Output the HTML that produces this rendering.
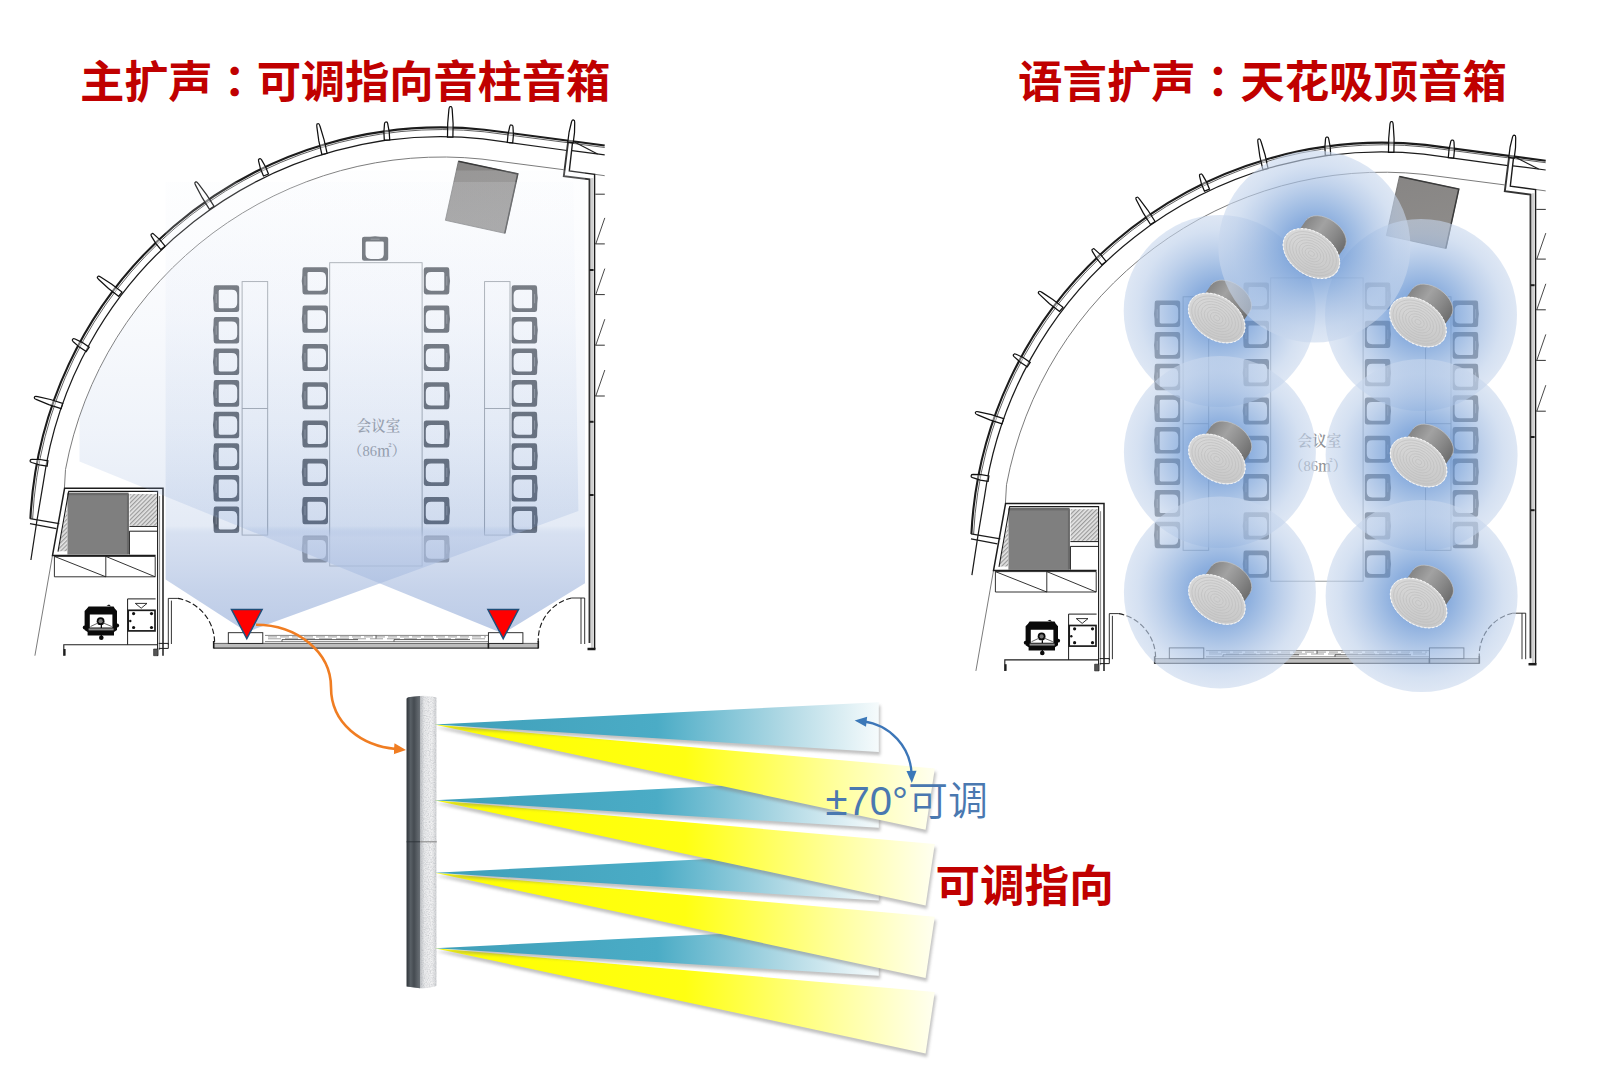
<!DOCTYPE html>
<html lang="zh-CN">
<head>
<meta charset="utf-8">
<title>会议室扩声方案</title>
<style>
html,body{margin:0;padding:0;background:#fff;}
body{width:1600px;height:1077px;overflow:hidden;position:relative;font-family:"Liberation Sans","Noto Sans CJK SC",sans-serif;}
svg{position:absolute;left:0;top:0;display:block;}
.t{position:absolute;white-space:nowrap;color:#c00000;font-weight:700;font-size:44.4px;line-height:44px;letter-spacing:-0.05px;}
.c{font-family:"Liberation Sans","Noto Sans CJK TC",sans-serif;line-height:0;}
</style>
</head>
<body>
<svg width="1600" height="1077" viewBox="0 0 1600 1077">
<defs>
<pattern id="hatchL" width="3" height="3" patternUnits="userSpaceOnUse" patternTransform="rotate(-45)"><rect width="3" height="3" fill="#e4e4e4"/><rect width="3" height="1.2" fill="#9a9a9a"/></pattern><linearGradient id="sqL" x1="0" y1="0" x2="0.25" y2="1"><stop offset="0" stop-color="#878584"/><stop offset="1" stop-color="#8e8c8a"/></linearGradient>
<pattern id="hatchR" width="3" height="3" patternUnits="userSpaceOnUse" patternTransform="rotate(-45)"><rect width="3" height="3" fill="#e4e4e4"/><rect width="3" height="1.2" fill="#9a9a9a"/></pattern><linearGradient id="sqR" x1="0" y1="0" x2="0.25" y2="1"><stop offset="0" stop-color="#878584"/><stop offset="1" stop-color="#8e8c8a"/></linearGradient>

<linearGradient id="beamA" gradientUnits="userSpaceOnUse" x1="0" y1="182" x2="0" y2="633">
<stop offset="0.000" stop-color="#f4f7fc" stop-opacity="0.15"/><stop offset="0.151" stop-color="#e6ecf7" stop-opacity="0.17"/><stop offset="0.306" stop-color="#d6e0f2" stop-opacity="0.18"/><stop offset="0.550" stop-color="#a8bee2" stop-opacity="0.18"/><stop offset="0.763" stop-color="#84a2d4" stop-opacity="0.22"/><stop offset="0.787" stop-color="#b5c6e5" stop-opacity="0.55"/><stop offset="0.905" stop-color="#a7bbdf" stop-opacity="0.65"/><stop offset="1.000" stop-color="#9eb4dc" stop-opacity="0.7"/></linearGradient>
<linearGradient id="beamB" gradientUnits="userSpaceOnUse" x1="0" y1="170" x2="0" y2="633">
<stop offset="0.000" stop-color="#f4f7fc" stop-opacity="0.15"/><stop offset="0.173" stop-color="#e6ecf7" stop-opacity="0.17"/><stop offset="0.324" stop-color="#d6e0f2" stop-opacity="0.18"/><stop offset="0.562" stop-color="#a8bee2" stop-opacity="0.18"/><stop offset="0.769" stop-color="#84a2d4" stop-opacity="0.22"/><stop offset="0.793" stop-color="#b5c6e5" stop-opacity="0.55"/><stop offset="0.907" stop-color="#a7bbdf" stop-opacity="0.65"/><stop offset="1.000" stop-color="#9eb4dc" stop-opacity="0.7"/></linearGradient>
<radialGradient id="cov" cx="0.5" cy="0.5" r="0.5">
<stop offset="0" stop-color="#588cd0" stop-opacity="0.88"/><stop offset="0.3" stop-color="#739dd7" stop-opacity="0.82"/><stop offset="0.47" stop-color="#87abdc" stop-opacity="0.75"/><stop offset="0.67" stop-color="#a4bee3" stop-opacity="0.68"/><stop offset="0.85" stop-color="#bccfea" stop-opacity="0.63"/><stop offset="1" stop-color="#c8d7ed" stop-opacity="0.6"/></radialGradient>
<linearGradient id="can" x1="0" y1="0" x2="1" y2="0"><stop offset="0" stop-color="#858585"/><stop offset="0.35" stop-color="#a2a2a2"/><stop offset="0.7" stop-color="#888888"/><stop offset="1" stop-color="#6e6e6e"/></linearGradient>
<linearGradient id="face" x1="0" y1="0" x2="1" y2="1"><stop offset="0" stop-color="#dcdcdc"/><stop offset="1" stop-color="#c4c4c4"/></linearGradient>
<linearGradient id="gy" gradientUnits="userSpaceOnUse" x1="435" y1="0" x2="935" y2="0">
<stop offset="0" stop-color="#ffff00"/><stop offset="0.5" stop-color="#ffff12"/><stop offset="0.8" stop-color="#ffff9c"/><stop offset="1" stop-color="#fffff0"/></linearGradient>
<linearGradient id="gt" gradientUnits="userSpaceOnUse" x1="435" y1="0" x2="879" y2="0">
<stop offset="0" stop-color="#3f9fb9"/><stop offset="0.5" stop-color="#4bacc6"/><stop offset="0.8" stop-color="#b5dbe6"/><stop offset="1" stop-color="#f6fbfc"/></linearGradient>
<linearGradient id="colf" x1="0" y1="0" x2="1" y2="0"><stop offset="0.45" stop-color="#b9bcc0"/><stop offset="0.6" stop-color="#e8e9eb"/><stop offset="0.85" stop-color="#f1f1f2"/><stop offset="1" stop-color="#cfd1d4"/></linearGradient>
<linearGradient id="cold" x1="0" y1="0" x2="1" y2="0"><stop offset="0" stop-color="#2f3439"/><stop offset="0.3" stop-color="#596066"/><stop offset="0.55" stop-color="#454b51"/><stop offset="1" stop-color="#6a7076"/></linearGradient>
<filter id="grain" x="0" y="0" width="100%" height="100%"><feTurbulence type="fractalNoise" baseFrequency="0.85" numOctaves="2" seed="3" result="n"/><feColorMatrix in="n" type="matrix" values="0 0 0 0 0.35  0 0 0 0 0.37  0 0 0 0 0.4  0 0 0 1.6 -0.62"/><feComposite in2="SourceGraphic" operator="in"/></filter>
<filter id="blur2" x="-5%" y="-20%" width="110%" height="140%"><feGaussianBlur stdDeviation="1.6"/></filter>
<marker id="oa" viewBox="0 0 12 12" refX="2" refY="6" markerWidth="12" markerHeight="12" markerUnits="userSpaceOnUse" orient="auto"><path d="M0,0.5 L12,6 L0,11.5 Z" fill="#f07d22"/></marker>
<marker id="ba" viewBox="0 0 10 10" refX="3" refY="5" markerWidth="13" markerHeight="12" markerUnits="userSpaceOnUse" orient="auto-start-reverse"><path d="M0,0.8 L10,5 L0,9.2 Z" fill="#3b78b8"/></marker>
</defs>

<!-- left plan -->
<g transform="translate(0,0)">
<g fill="none" stroke="#7c7c7c" stroke-width="1">
<path d="M64.4,488.4 L65.5,469.5 A383,383 0 0 1 482,159.1 L563.6,169.7 M594.8,174.3 L604.7,175.7"/>
<path d="M52.5,555.4 L34.9,655.7"/>
</g>
<g fill="none" stroke="#1c1c1c" stroke-width="1.1" stroke-linejoin="miter">
<path d="M30.4,518.8 A411.5,411.5 0 0 1 484.4,129.7 L604.7,145.5" stroke-width="2.1"/>
<path d="M32.6,518.9 A409.3,409.3 0 0 1 484.2,131.8 L604.7,147.5" stroke-width="0.7"/>
<path d="M30.9,560 L36.7,522 L43.4,482.1 A401.3,401.3 0 0 1 482.7,138.9 L567,150.5" stroke-width="1.25"/>
<path d="M572,150.6 L604.7,154.8" stroke-width="1.25"/>
<path d="M572.5,141 L597.6,153.9"/>
<path d="M30,518.7 L59.3,523.7 M30,523.7 L56.4,528.6" stroke-width="1.2"/>
<path d="M572.7,141 L569.3,171 L594.6,174.3 L594.6,649" stroke-width="1.4"/>
<path d="M568.2,141 L563.8,176.1 L589.5,179.4 L589.5,643" stroke-width="1.9" stroke="#333"/>
<path d="M592.2,178 L592.2,649" stroke="#d0d0d0" stroke-width="2.6"/>
<path d="M587.5,649 H595.5" stroke-width="2.5"/>
<path d="M595.3,194.2 H604.8" stroke-width="0.9"/>
<path d="M595.3,243.9 H604.8" stroke-width="0.9"/>
<path d="M604.8,217.9 L595.8,243.9" stroke-width="0.8"/>
<path d="M595.3,294.6 H604.8" stroke-width="0.9"/>
<path d="M604.8,268.6 L595.8,294.6" stroke-width="0.8"/>
<path d="M595.3,345.2 H604.8" stroke-width="0.9"/>
<path d="M604.8,319.2 L595.8,345.2" stroke-width="0.8"/>
<path d="M595.3,396 H604.8" stroke-width="0.9"/>
<path d="M604.8,370 L595.8,396" stroke-width="0.8"/>
<path d="M589.6,270 H593.6" stroke-width="2"/>
<path d="M589.6,421.8 H593.6" stroke-width="2"/>
<path d="M589.6,495 H593.6" stroke-width="2"/>
</g>
<g fill="#fff" fill-opacity="0.4" stroke="#111" stroke-width="1.25">
<path d="M47.1,466.2 L39.3,464.9 L31.7,462.5 Q30,461.9 30.1,461.1 L30.3,460.1 Q30.4,459.3 32.2,459.3 L40.2,459.5 L47.9,460.8 Z"/>
<path d="M61.1,408.6 L48.8,404.7 L36.7,399.7 Q34.1,398.6 34.3,397.8 L34.7,396.8 Q34.9,396 37.7,396.6 L50.4,399.5 L62.7,403.4 Z"/>
<path d="M86.2,351.6 L79.4,347.1 L73.3,341.7 Q71.9,340.4 72.4,339.7 L73,338.9 Q73.5,338.2 75.1,339 L82.5,342.6 L89.2,347.2 Z"/>
<path d="M118.6,296.3 L108.5,288.5 L99,279.7 Q96.9,277.8 97.4,277.1 L98,276.3 Q98.5,275.6 101,277.2 L111.8,284.2 L122,292.1 Z"/>
<path d="M160.9,249.6 L155.8,243.4 L151.5,236.4 Q150.6,234.9 151.2,234.3 L152,233.7 Q152.6,233.1 154,234.4 L160,239.9 L165.1,246.2 Z"/>
<path d="M209.5,209.3 L202.2,197.7 L195.8,185.6 Q194.4,182.9 195,182.5 L196,181.9 Q196.6,181.5 198.5,183.9 L206.7,194.8 L214.1,206.3 Z"/>
<path d="M263.5,176 L260.5,168.8 L258.6,161.1 Q258.2,159.4 258.9,159.1 L259.9,158.7 Q260.6,158.4 261.6,159.9 L265.5,166.7 L268.5,174 Z"/>
<path d="M321.9,154.5 L318.8,140.9 L316.9,127.2 Q316.5,124.1 317.3,123.9 L318.3,123.7 Q319.1,123.5 320.1,126.5 L324.1,139.8 L327.1,153.3 Z"/>
<path d="M384.3,140.1 L383.9,132 L384.5,123.9 Q384.7,122.1 385.5,122 L386.5,122 Q387.3,121.9 387.7,123.7 L389.2,131.8 L389.7,139.9 Z"/>
<path d="M447.5,137.1 L447.7,123.3 L448.9,109.5 Q449.3,106.5 450.1,106.5 L451.1,106.5 Q451.9,106.5 452.2,109.6 L453.1,123.4 L452.9,137.1 Z"/>
<path d="M507.3,142.5 L508,134.5 L509.7,126.6 Q510.2,124.9 511,125 L512,125 Q512.8,125.1 513,126.9 L513.4,135 L512.7,142.9 Z"/>
<path d="M567.8,142.2 L569.1,132 L571.5,122 Q572.1,119.8 572.9,119.9 L573.9,120.1 Q574.7,120.2 574.7,122.5 L574.5,132.7 L573.2,142.8 Z"/>
</g>
<g fill="none" stroke="#1c1c1c" stroke-width="1.2">
<rect x="67.4" y="493.8" width="61.2" height="60.7" fill="#7f7f7f" stroke="none"/>
<rect x="67.4" y="492.6" width="61.2" height="2.6" fill="#6a6a6a" stroke="none"/>
<rect x="126.9" y="494" width="2" height="60" fill="#6a6a6a" stroke="none"/>
<rect x="129.6" y="494" width="27.4" height="31.6" fill="url(#hatchL)" stroke="none"/>
<path d="M67.2,507 L67.2,551.3 L58.2,551.3 Z" fill="url(#hatchL)" stroke="none"/>
<path d="M163,655.7 V488.2 H64.6 L52.5,555.4 H155.6" stroke-width="1.5"/>
<path d="M157.6,655.7 V491.4 H68.7 L58,551.7" stroke-width="1.1"/>
<path d="M159.6,496 V650" stroke="#555" stroke-width="0.7"/>
<path d="M129.4,526.4 H157.4 M129.4,531.2 H157.4 M129.4,531.2 V554.5" stroke-width="1"/>
<path d="M54.4,556.4 H155.2 V576.8 H54.4 Z M105.8,556.4 V576.8 M54.4,556.4 L105.8,576.8 M105.8,556.4 L155.2,576.8" stroke-width="0.9"/>
<path d="M127.6,644.7 V598.9 H155.6" stroke-width="1"/>
<rect x="128.2" y="610.3" width="26.8" height="20.6" stroke-width="1.7"/>
<path d="M135.3,603.4 H147 L141.2,608.2 Z" stroke-width="0.9"/>
<circle cx="133.6" cy="613.6" r="1.6" fill="#111" stroke="none"/>
<circle cx="151.5" cy="613.6" r="1.6" fill="#111" stroke="none"/>
<circle cx="133.6" cy="627.5" r="1.6" fill="#111" stroke="none"/>
<circle cx="151.5" cy="627.5" r="1.6" fill="#111" stroke="none"/>
<circle cx="130.3" cy="621" r="1.2" fill="#111" stroke="none"/>
<path d="M63.8,655.7 V644.7 H157.6" stroke-width="1.1"/>
<path d="M64.6,649 V655.7" stroke-width="2"/>
<path d="M153.6,649 H158 V655.7 H153.6 Z" fill="#555" stroke-width="0.6"/>
<path d="M158.7,643.4 H168.3 V648.4 H158.7" stroke-width="1"/>
<g fill="#0a0a0a" stroke="none">
<path d="M88.6,606.4 H113.6 L114.8,608.5 L117,611 V630 L114,632 V635.4 H87.6 V632 L84.6,630 V611 L87,608.5 Z M89.8,614.6 V627.6 H112.4 V614.6 Z"/>
<circle cx="84.7" cy="627.5" r="1.9"/><circle cx="117.2" cy="625.5" r="1.9"/>
<path d="M106.5,605.6 l2.6,-1 l2,2 z"/>
<circle cx="101.3" cy="637.8" r="2.3"/><rect x="100.7" y="625" width="1.3" height="12"/>
<circle cx="100.6" cy="621.2" r="3.9"/>
<rect x="88.6" y="628.4" width="25" height="2" fill="#8a8a8a"/>
</g>
<circle cx="100.6" cy="621.2" r="2.1" fill="#777" stroke="none"/>
<path d="M90.5,626.5 L98,623 M111.8,626.5 L103.4,623" stroke="#666" stroke-width="1"/>
</g>
<g fill="none" stroke="#1c1c1c" stroke-width="1">
<path d="M171.4,644 V600.6 M168.3,644.6 V598.4 H177.9" stroke-width="0.9"/>
<path d="M177.9,598.4 A45,45 0 0 1 214.6,642" stroke-dasharray="5.5 2.5" stroke-width="1.15"/>
<path d="M581,644 V598 H584.7 V644 M571.5,598 H581" stroke-width="0.9"/>
<path d="M571.5,598 A43,43 0 0 0 538.3,642" stroke-dasharray="5.5 2.5" stroke-width="1.15"/>
<rect x="213.7" y="643.4" width="324.6" height="4.8" fill="#bdbdbd" stroke="none"/>
<path d="M213.7,643.4 H538.3" stroke="#555" stroke-width="0.9"/><path d="M213.7,648.2 H538.3" stroke="#333" stroke-width="1.2"/>
<path d="M213.7,641 V648.6 M538.3,641 V648.6 M488.4,643 V648.6" stroke-width="1.6"/>
<rect x="228.3" y="632.7" width="34.5" height="10.7" fill="#fff" stroke-width="0.9"/>
<rect x="488.4" y="632.7" width="34.5" height="10.7" fill="#fff" stroke-width="0.9"/>
<path d="M265,635.4 H488 M265,641.6 H488" stroke="#555" stroke-width="0.7"/>
<path d="M268,636.9 H486" stroke="#888" stroke-width="0.8" stroke-dasharray="9 3"/>
<path d="M268,638.8 H486" stroke="#888" stroke-width="0.8" stroke-dasharray="13 4"/>
<path d="M282,641.6 V639.6 H358 M394,641.6 V639.6 H470 M376,635.4 V638.6" stroke="#333" stroke-width="0.8"/>
</g>
<g fill="none" stroke="#8d9296" stroke-width="0.9">
<rect x="329.7" y="262.7" width="92.4" height="303.3"/>
<rect x="242.1" y="281.6" width="25.6" height="253.5"/><path d="M242.1,408.5 H267.7"/>
<rect x="484.6" y="281.6" width="25.4" height="253.5"/><path d="M484.6,408.5 H510"/>
</g>
<g fill="#484c51" stroke="none">
<g transform="translate(388.5,236) rotate(90) scale(0.939,0.964)"><path d="M3,0.3 H24 Q26.4,0.3 26.4,2.6 V25.2 Q26.4,27.5 24,27.5 H3 Q0.8,27.5 0.9,25 L0.7,19 Q-0.4,13.9 0.7,8.8 L0.9,2.8 Q0.8,0.3 3,0.3 Z M7.3,4.9 H19 Q24.4,4.9 24.4,10.2 V18.4 Q24.4,23.8 19,23.8 H7.3 Q5.9,23.8 5.9,22.4 V6.3 Q5.9,4.9 7.3,4.9 Z" fill-rule="evenodd"/><path d="M3.4,9.3 V18.6" stroke="#8e9195" stroke-width="0.8" fill="none"/></g>
<g transform="translate(301.6,267) scale(1.000,0.996)"><path d="M3,0.3 H24 Q26.4,0.3 26.4,2.6 V25.2 Q26.4,27.5 24,27.5 H3 Q0.8,27.5 0.9,25 L0.7,19 Q-0.4,13.9 0.7,8.8 L0.9,2.8 Q0.8,0.3 3,0.3 Z M7.3,4.9 H19 Q24.4,4.9 24.4,10.2 V18.4 Q24.4,23.8 19,23.8 H7.3 Q5.9,23.8 5.9,22.4 V6.3 Q5.9,4.9 7.3,4.9 Z" fill-rule="evenodd"/><path d="M3.4,9.3 V18.6" stroke="#8e9195" stroke-width="0.8" fill="none"/></g>
<g transform="translate(450.2,267) scale(-1.000,0.996)"><path d="M3,0.3 H24 Q26.4,0.3 26.4,2.6 V25.2 Q26.4,27.5 24,27.5 H3 Q0.8,27.5 0.9,25 L0.7,19 Q-0.4,13.9 0.7,8.8 L0.9,2.8 Q0.8,0.3 3,0.3 Z M7.3,4.9 H19 Q24.4,4.9 24.4,10.2 V18.4 Q24.4,23.8 19,23.8 H7.3 Q5.9,23.8 5.9,22.4 V6.3 Q5.9,4.9 7.3,4.9 Z" fill-rule="evenodd"/><path d="M3.4,9.3 V18.6" stroke="#8e9195" stroke-width="0.8" fill="none"/></g>
<g transform="translate(212.8,285) scale(1.000,0.978)"><path d="M3,0.3 H24 Q26.4,0.3 26.4,2.6 V25.2 Q26.4,27.5 24,27.5 H3 Q0.8,27.5 0.9,25 L0.7,19 Q-0.4,13.9 0.7,8.8 L0.9,2.8 Q0.8,0.3 3,0.3 Z M7.3,4.9 H19 Q24.4,4.9 24.4,10.2 V18.4 Q24.4,23.8 19,23.8 H7.3 Q5.9,23.8 5.9,22.4 V6.3 Q5.9,4.9 7.3,4.9 Z" fill-rule="evenodd"/><path d="M3.4,9.3 V18.6" stroke="#8e9195" stroke-width="0.8" fill="none"/></g>
<g transform="translate(538,285) scale(-1.000,0.978)"><path d="M3,0.3 H24 Q26.4,0.3 26.4,2.6 V25.2 Q26.4,27.5 24,27.5 H3 Q0.8,27.5 0.9,25 L0.7,19 Q-0.4,13.9 0.7,8.8 L0.9,2.8 Q0.8,0.3 3,0.3 Z M7.3,4.9 H19 Q24.4,4.9 24.4,10.2 V18.4 Q24.4,23.8 19,23.8 H7.3 Q5.9,23.8 5.9,22.4 V6.3 Q5.9,4.9 7.3,4.9 Z" fill-rule="evenodd"/><path d="M3.4,9.3 V18.6" stroke="#8e9195" stroke-width="0.8" fill="none"/></g>
<g transform="translate(301.6,305.3) scale(1.000,0.996)"><path d="M3,0.3 H24 Q26.4,0.3 26.4,2.6 V25.2 Q26.4,27.5 24,27.5 H3 Q0.8,27.5 0.9,25 L0.7,19 Q-0.4,13.9 0.7,8.8 L0.9,2.8 Q0.8,0.3 3,0.3 Z M7.3,4.9 H19 Q24.4,4.9 24.4,10.2 V18.4 Q24.4,23.8 19,23.8 H7.3 Q5.9,23.8 5.9,22.4 V6.3 Q5.9,4.9 7.3,4.9 Z" fill-rule="evenodd"/><path d="M3.4,9.3 V18.6" stroke="#8e9195" stroke-width="0.8" fill="none"/></g>
<g transform="translate(450.2,305.3) scale(-1.000,0.996)"><path d="M3,0.3 H24 Q26.4,0.3 26.4,2.6 V25.2 Q26.4,27.5 24,27.5 H3 Q0.8,27.5 0.9,25 L0.7,19 Q-0.4,13.9 0.7,8.8 L0.9,2.8 Q0.8,0.3 3,0.3 Z M7.3,4.9 H19 Q24.4,4.9 24.4,10.2 V18.4 Q24.4,23.8 19,23.8 H7.3 Q5.9,23.8 5.9,22.4 V6.3 Q5.9,4.9 7.3,4.9 Z" fill-rule="evenodd"/><path d="M3.4,9.3 V18.6" stroke="#8e9195" stroke-width="0.8" fill="none"/></g>
<g transform="translate(212.8,316.6) scale(1.000,0.978)"><path d="M3,0.3 H24 Q26.4,0.3 26.4,2.6 V25.2 Q26.4,27.5 24,27.5 H3 Q0.8,27.5 0.9,25 L0.7,19 Q-0.4,13.9 0.7,8.8 L0.9,2.8 Q0.8,0.3 3,0.3 Z M7.3,4.9 H19 Q24.4,4.9 24.4,10.2 V18.4 Q24.4,23.8 19,23.8 H7.3 Q5.9,23.8 5.9,22.4 V6.3 Q5.9,4.9 7.3,4.9 Z" fill-rule="evenodd"/><path d="M3.4,9.3 V18.6" stroke="#8e9195" stroke-width="0.8" fill="none"/></g>
<g transform="translate(538,316.6) scale(-1.000,0.978)"><path d="M3,0.3 H24 Q26.4,0.3 26.4,2.6 V25.2 Q26.4,27.5 24,27.5 H3 Q0.8,27.5 0.9,25 L0.7,19 Q-0.4,13.9 0.7,8.8 L0.9,2.8 Q0.8,0.3 3,0.3 Z M7.3,4.9 H19 Q24.4,4.9 24.4,10.2 V18.4 Q24.4,23.8 19,23.8 H7.3 Q5.9,23.8 5.9,22.4 V6.3 Q5.9,4.9 7.3,4.9 Z" fill-rule="evenodd"/><path d="M3.4,9.3 V18.6" stroke="#8e9195" stroke-width="0.8" fill="none"/></g>
<g transform="translate(301.6,343.6) scale(1.000,0.996)"><path d="M3,0.3 H24 Q26.4,0.3 26.4,2.6 V25.2 Q26.4,27.5 24,27.5 H3 Q0.8,27.5 0.9,25 L0.7,19 Q-0.4,13.9 0.7,8.8 L0.9,2.8 Q0.8,0.3 3,0.3 Z M7.3,4.9 H19 Q24.4,4.9 24.4,10.2 V18.4 Q24.4,23.8 19,23.8 H7.3 Q5.9,23.8 5.9,22.4 V6.3 Q5.9,4.9 7.3,4.9 Z" fill-rule="evenodd"/><path d="M3.4,9.3 V18.6" stroke="#8e9195" stroke-width="0.8" fill="none"/></g>
<g transform="translate(450.2,343.6) scale(-1.000,0.996)"><path d="M3,0.3 H24 Q26.4,0.3 26.4,2.6 V25.2 Q26.4,27.5 24,27.5 H3 Q0.8,27.5 0.9,25 L0.7,19 Q-0.4,13.9 0.7,8.8 L0.9,2.8 Q0.8,0.3 3,0.3 Z M7.3,4.9 H19 Q24.4,4.9 24.4,10.2 V18.4 Q24.4,23.8 19,23.8 H7.3 Q5.9,23.8 5.9,22.4 V6.3 Q5.9,4.9 7.3,4.9 Z" fill-rule="evenodd"/><path d="M3.4,9.3 V18.6" stroke="#8e9195" stroke-width="0.8" fill="none"/></g>
<g transform="translate(212.8,348.2) scale(1.000,0.978)"><path d="M3,0.3 H24 Q26.4,0.3 26.4,2.6 V25.2 Q26.4,27.5 24,27.5 H3 Q0.8,27.5 0.9,25 L0.7,19 Q-0.4,13.9 0.7,8.8 L0.9,2.8 Q0.8,0.3 3,0.3 Z M7.3,4.9 H19 Q24.4,4.9 24.4,10.2 V18.4 Q24.4,23.8 19,23.8 H7.3 Q5.9,23.8 5.9,22.4 V6.3 Q5.9,4.9 7.3,4.9 Z" fill-rule="evenodd"/><path d="M3.4,9.3 V18.6" stroke="#8e9195" stroke-width="0.8" fill="none"/></g>
<g transform="translate(538,348.2) scale(-1.000,0.978)"><path d="M3,0.3 H24 Q26.4,0.3 26.4,2.6 V25.2 Q26.4,27.5 24,27.5 H3 Q0.8,27.5 0.9,25 L0.7,19 Q-0.4,13.9 0.7,8.8 L0.9,2.8 Q0.8,0.3 3,0.3 Z M7.3,4.9 H19 Q24.4,4.9 24.4,10.2 V18.4 Q24.4,23.8 19,23.8 H7.3 Q5.9,23.8 5.9,22.4 V6.3 Q5.9,4.9 7.3,4.9 Z" fill-rule="evenodd"/><path d="M3.4,9.3 V18.6" stroke="#8e9195" stroke-width="0.8" fill="none"/></g>
<g transform="translate(301.6,381.9) scale(1.000,0.996)"><path d="M3,0.3 H24 Q26.4,0.3 26.4,2.6 V25.2 Q26.4,27.5 24,27.5 H3 Q0.8,27.5 0.9,25 L0.7,19 Q-0.4,13.9 0.7,8.8 L0.9,2.8 Q0.8,0.3 3,0.3 Z M7.3,4.9 H19 Q24.4,4.9 24.4,10.2 V18.4 Q24.4,23.8 19,23.8 H7.3 Q5.9,23.8 5.9,22.4 V6.3 Q5.9,4.9 7.3,4.9 Z" fill-rule="evenodd"/><path d="M3.4,9.3 V18.6" stroke="#8e9195" stroke-width="0.8" fill="none"/></g>
<g transform="translate(450.2,381.9) scale(-1.000,0.996)"><path d="M3,0.3 H24 Q26.4,0.3 26.4,2.6 V25.2 Q26.4,27.5 24,27.5 H3 Q0.8,27.5 0.9,25 L0.7,19 Q-0.4,13.9 0.7,8.8 L0.9,2.8 Q0.8,0.3 3,0.3 Z M7.3,4.9 H19 Q24.4,4.9 24.4,10.2 V18.4 Q24.4,23.8 19,23.8 H7.3 Q5.9,23.8 5.9,22.4 V6.3 Q5.9,4.9 7.3,4.9 Z" fill-rule="evenodd"/><path d="M3.4,9.3 V18.6" stroke="#8e9195" stroke-width="0.8" fill="none"/></g>
<g transform="translate(212.8,379.8) scale(1.000,0.978)"><path d="M3,0.3 H24 Q26.4,0.3 26.4,2.6 V25.2 Q26.4,27.5 24,27.5 H3 Q0.8,27.5 0.9,25 L0.7,19 Q-0.4,13.9 0.7,8.8 L0.9,2.8 Q0.8,0.3 3,0.3 Z M7.3,4.9 H19 Q24.4,4.9 24.4,10.2 V18.4 Q24.4,23.8 19,23.8 H7.3 Q5.9,23.8 5.9,22.4 V6.3 Q5.9,4.9 7.3,4.9 Z" fill-rule="evenodd"/><path d="M3.4,9.3 V18.6" stroke="#8e9195" stroke-width="0.8" fill="none"/></g>
<g transform="translate(538,379.8) scale(-1.000,0.978)"><path d="M3,0.3 H24 Q26.4,0.3 26.4,2.6 V25.2 Q26.4,27.5 24,27.5 H3 Q0.8,27.5 0.9,25 L0.7,19 Q-0.4,13.9 0.7,8.8 L0.9,2.8 Q0.8,0.3 3,0.3 Z M7.3,4.9 H19 Q24.4,4.9 24.4,10.2 V18.4 Q24.4,23.8 19,23.8 H7.3 Q5.9,23.8 5.9,22.4 V6.3 Q5.9,4.9 7.3,4.9 Z" fill-rule="evenodd"/><path d="M3.4,9.3 V18.6" stroke="#8e9195" stroke-width="0.8" fill="none"/></g>
<g transform="translate(301.6,420.2) scale(1.000,0.996)"><path d="M3,0.3 H24 Q26.4,0.3 26.4,2.6 V25.2 Q26.4,27.5 24,27.5 H3 Q0.8,27.5 0.9,25 L0.7,19 Q-0.4,13.9 0.7,8.8 L0.9,2.8 Q0.8,0.3 3,0.3 Z M7.3,4.9 H19 Q24.4,4.9 24.4,10.2 V18.4 Q24.4,23.8 19,23.8 H7.3 Q5.9,23.8 5.9,22.4 V6.3 Q5.9,4.9 7.3,4.9 Z" fill-rule="evenodd"/><path d="M3.4,9.3 V18.6" stroke="#8e9195" stroke-width="0.8" fill="none"/></g>
<g transform="translate(450.2,420.2) scale(-1.000,0.996)"><path d="M3,0.3 H24 Q26.4,0.3 26.4,2.6 V25.2 Q26.4,27.5 24,27.5 H3 Q0.8,27.5 0.9,25 L0.7,19 Q-0.4,13.9 0.7,8.8 L0.9,2.8 Q0.8,0.3 3,0.3 Z M7.3,4.9 H19 Q24.4,4.9 24.4,10.2 V18.4 Q24.4,23.8 19,23.8 H7.3 Q5.9,23.8 5.9,22.4 V6.3 Q5.9,4.9 7.3,4.9 Z" fill-rule="evenodd"/><path d="M3.4,9.3 V18.6" stroke="#8e9195" stroke-width="0.8" fill="none"/></g>
<g transform="translate(212.8,411.4) scale(1.000,0.978)"><path d="M3,0.3 H24 Q26.4,0.3 26.4,2.6 V25.2 Q26.4,27.5 24,27.5 H3 Q0.8,27.5 0.9,25 L0.7,19 Q-0.4,13.9 0.7,8.8 L0.9,2.8 Q0.8,0.3 3,0.3 Z M7.3,4.9 H19 Q24.4,4.9 24.4,10.2 V18.4 Q24.4,23.8 19,23.8 H7.3 Q5.9,23.8 5.9,22.4 V6.3 Q5.9,4.9 7.3,4.9 Z" fill-rule="evenodd"/><path d="M3.4,9.3 V18.6" stroke="#8e9195" stroke-width="0.8" fill="none"/></g>
<g transform="translate(538,411.4) scale(-1.000,0.978)"><path d="M3,0.3 H24 Q26.4,0.3 26.4,2.6 V25.2 Q26.4,27.5 24,27.5 H3 Q0.8,27.5 0.9,25 L0.7,19 Q-0.4,13.9 0.7,8.8 L0.9,2.8 Q0.8,0.3 3,0.3 Z M7.3,4.9 H19 Q24.4,4.9 24.4,10.2 V18.4 Q24.4,23.8 19,23.8 H7.3 Q5.9,23.8 5.9,22.4 V6.3 Q5.9,4.9 7.3,4.9 Z" fill-rule="evenodd"/><path d="M3.4,9.3 V18.6" stroke="#8e9195" stroke-width="0.8" fill="none"/></g>
<g transform="translate(301.6,458.5) scale(1.000,0.996)"><path d="M3,0.3 H24 Q26.4,0.3 26.4,2.6 V25.2 Q26.4,27.5 24,27.5 H3 Q0.8,27.5 0.9,25 L0.7,19 Q-0.4,13.9 0.7,8.8 L0.9,2.8 Q0.8,0.3 3,0.3 Z M7.3,4.9 H19 Q24.4,4.9 24.4,10.2 V18.4 Q24.4,23.8 19,23.8 H7.3 Q5.9,23.8 5.9,22.4 V6.3 Q5.9,4.9 7.3,4.9 Z" fill-rule="evenodd"/><path d="M3.4,9.3 V18.6" stroke="#8e9195" stroke-width="0.8" fill="none"/></g>
<g transform="translate(450.2,458.5) scale(-1.000,0.996)"><path d="M3,0.3 H24 Q26.4,0.3 26.4,2.6 V25.2 Q26.4,27.5 24,27.5 H3 Q0.8,27.5 0.9,25 L0.7,19 Q-0.4,13.9 0.7,8.8 L0.9,2.8 Q0.8,0.3 3,0.3 Z M7.3,4.9 H19 Q24.4,4.9 24.4,10.2 V18.4 Q24.4,23.8 19,23.8 H7.3 Q5.9,23.8 5.9,22.4 V6.3 Q5.9,4.9 7.3,4.9 Z" fill-rule="evenodd"/><path d="M3.4,9.3 V18.6" stroke="#8e9195" stroke-width="0.8" fill="none"/></g>
<g transform="translate(212.8,443) scale(1.000,0.978)"><path d="M3,0.3 H24 Q26.4,0.3 26.4,2.6 V25.2 Q26.4,27.5 24,27.5 H3 Q0.8,27.5 0.9,25 L0.7,19 Q-0.4,13.9 0.7,8.8 L0.9,2.8 Q0.8,0.3 3,0.3 Z M7.3,4.9 H19 Q24.4,4.9 24.4,10.2 V18.4 Q24.4,23.8 19,23.8 H7.3 Q5.9,23.8 5.9,22.4 V6.3 Q5.9,4.9 7.3,4.9 Z" fill-rule="evenodd"/><path d="M3.4,9.3 V18.6" stroke="#8e9195" stroke-width="0.8" fill="none"/></g>
<g transform="translate(538,443) scale(-1.000,0.978)"><path d="M3,0.3 H24 Q26.4,0.3 26.4,2.6 V25.2 Q26.4,27.5 24,27.5 H3 Q0.8,27.5 0.9,25 L0.7,19 Q-0.4,13.9 0.7,8.8 L0.9,2.8 Q0.8,0.3 3,0.3 Z M7.3,4.9 H19 Q24.4,4.9 24.4,10.2 V18.4 Q24.4,23.8 19,23.8 H7.3 Q5.9,23.8 5.9,22.4 V6.3 Q5.9,4.9 7.3,4.9 Z" fill-rule="evenodd"/><path d="M3.4,9.3 V18.6" stroke="#8e9195" stroke-width="0.8" fill="none"/></g>
<g transform="translate(301.6,496.8) scale(1.000,0.996)"><path d="M3,0.3 H24 Q26.4,0.3 26.4,2.6 V25.2 Q26.4,27.5 24,27.5 H3 Q0.8,27.5 0.9,25 L0.7,19 Q-0.4,13.9 0.7,8.8 L0.9,2.8 Q0.8,0.3 3,0.3 Z M7.3,4.9 H19 Q24.4,4.9 24.4,10.2 V18.4 Q24.4,23.8 19,23.8 H7.3 Q5.9,23.8 5.9,22.4 V6.3 Q5.9,4.9 7.3,4.9 Z" fill-rule="evenodd"/><path d="M3.4,9.3 V18.6" stroke="#8e9195" stroke-width="0.8" fill="none"/></g>
<g transform="translate(450.2,496.8) scale(-1.000,0.996)"><path d="M3,0.3 H24 Q26.4,0.3 26.4,2.6 V25.2 Q26.4,27.5 24,27.5 H3 Q0.8,27.5 0.9,25 L0.7,19 Q-0.4,13.9 0.7,8.8 L0.9,2.8 Q0.8,0.3 3,0.3 Z M7.3,4.9 H19 Q24.4,4.9 24.4,10.2 V18.4 Q24.4,23.8 19,23.8 H7.3 Q5.9,23.8 5.9,22.4 V6.3 Q5.9,4.9 7.3,4.9 Z" fill-rule="evenodd"/><path d="M3.4,9.3 V18.6" stroke="#8e9195" stroke-width="0.8" fill="none"/></g>
<g transform="translate(212.8,474.6) scale(1.000,0.978)"><path d="M3,0.3 H24 Q26.4,0.3 26.4,2.6 V25.2 Q26.4,27.5 24,27.5 H3 Q0.8,27.5 0.9,25 L0.7,19 Q-0.4,13.9 0.7,8.8 L0.9,2.8 Q0.8,0.3 3,0.3 Z M7.3,4.9 H19 Q24.4,4.9 24.4,10.2 V18.4 Q24.4,23.8 19,23.8 H7.3 Q5.9,23.8 5.9,22.4 V6.3 Q5.9,4.9 7.3,4.9 Z" fill-rule="evenodd"/><path d="M3.4,9.3 V18.6" stroke="#8e9195" stroke-width="0.8" fill="none"/></g>
<g transform="translate(538,474.6) scale(-1.000,0.978)"><path d="M3,0.3 H24 Q26.4,0.3 26.4,2.6 V25.2 Q26.4,27.5 24,27.5 H3 Q0.8,27.5 0.9,25 L0.7,19 Q-0.4,13.9 0.7,8.8 L0.9,2.8 Q0.8,0.3 3,0.3 Z M7.3,4.9 H19 Q24.4,4.9 24.4,10.2 V18.4 Q24.4,23.8 19,23.8 H7.3 Q5.9,23.8 5.9,22.4 V6.3 Q5.9,4.9 7.3,4.9 Z" fill-rule="evenodd"/><path d="M3.4,9.3 V18.6" stroke="#8e9195" stroke-width="0.8" fill="none"/></g>
<g transform="translate(301.6,535.1) scale(1.000,0.996)"><path d="M3,0.3 H24 Q26.4,0.3 26.4,2.6 V25.2 Q26.4,27.5 24,27.5 H3 Q0.8,27.5 0.9,25 L0.7,19 Q-0.4,13.9 0.7,8.8 L0.9,2.8 Q0.8,0.3 3,0.3 Z M7.3,4.9 H19 Q24.4,4.9 24.4,10.2 V18.4 Q24.4,23.8 19,23.8 H7.3 Q5.9,23.8 5.9,22.4 V6.3 Q5.9,4.9 7.3,4.9 Z" fill-rule="evenodd"/><path d="M3.4,9.3 V18.6" stroke="#8e9195" stroke-width="0.8" fill="none"/></g>
<g transform="translate(450.2,535.1) scale(-1.000,0.996)"><path d="M3,0.3 H24 Q26.4,0.3 26.4,2.6 V25.2 Q26.4,27.5 24,27.5 H3 Q0.8,27.5 0.9,25 L0.7,19 Q-0.4,13.9 0.7,8.8 L0.9,2.8 Q0.8,0.3 3,0.3 Z M7.3,4.9 H19 Q24.4,4.9 24.4,10.2 V18.4 Q24.4,23.8 19,23.8 H7.3 Q5.9,23.8 5.9,22.4 V6.3 Q5.9,4.9 7.3,4.9 Z" fill-rule="evenodd"/><path d="M3.4,9.3 V18.6" stroke="#8e9195" stroke-width="0.8" fill="none"/></g>
<g transform="translate(212.8,506.2) scale(1.000,0.978)"><path d="M3,0.3 H24 Q26.4,0.3 26.4,2.6 V25.2 Q26.4,27.5 24,27.5 H3 Q0.8,27.5 0.9,25 L0.7,19 Q-0.4,13.9 0.7,8.8 L0.9,2.8 Q0.8,0.3 3,0.3 Z M7.3,4.9 H19 Q24.4,4.9 24.4,10.2 V18.4 Q24.4,23.8 19,23.8 H7.3 Q5.9,23.8 5.9,22.4 V6.3 Q5.9,4.9 7.3,4.9 Z" fill-rule="evenodd"/><path d="M3.4,9.3 V18.6" stroke="#8e9195" stroke-width="0.8" fill="none"/></g>
<g transform="translate(538,506.2) scale(-1.000,0.978)"><path d="M3,0.3 H24 Q26.4,0.3 26.4,2.6 V25.2 Q26.4,27.5 24,27.5 H3 Q0.8,27.5 0.9,25 L0.7,19 Q-0.4,13.9 0.7,8.8 L0.9,2.8 Q0.8,0.3 3,0.3 Z M7.3,4.9 H19 Q24.4,4.9 24.4,10.2 V18.4 Q24.4,23.8 19,23.8 H7.3 Q5.9,23.8 5.9,22.4 V6.3 Q5.9,4.9 7.3,4.9 Z" fill-rule="evenodd"/><path d="M3.4,9.3 V18.6" stroke="#8e9195" stroke-width="0.8" fill="none"/></g>
</g>
<text x="378.5" y="431" text-anchor="middle" font-family="'Liberation Serif','Noto Serif CJK SC',serif" font-size="14.6" font-weight="600" fill="#8f9296">会议室</text>
<text x="377" y="455.5" text-anchor="middle" font-family="'Liberation Serif','Noto Serif CJK SC',serif" font-size="14.5" font-weight="500" fill="#8f9296">（86㎡）</text>
<path d="M458.4,161.3 L517.8,173.9 L504.8,233.3 L445.4,220.3 Z" fill="url(#sqL)" stroke="#6a6a6a" stroke-width="0.8"/>
<path d="M458.4,161.3 L517.8,173.9 L504.8,233.3" fill="none" stroke="#3a3a3a" stroke-width="1.5"/>
</g>
<path d="M246.8,632 L165.6,579.5 V182 H573.4 L578.4,511 Z" fill="url(#beamA)"/>
<path d="M503,633.5 L79.5,461.5 V416.4 A383,383 0 0 1 341.2,170.5 H585 V583.3 Z" fill="url(#beamB)"/>
<path d="M231.5,609.6 H262.1 L246.8,638.6 Z" fill="#ff0000" stroke="#1f4e79" stroke-width="1.5" stroke-linejoin="miter"/>
<path d="M487.9,609.6 H518.5 L503.2,638.6 Z" fill="#ff0000" stroke="#1f4e79" stroke-width="1.5" stroke-linejoin="miter"/>
<!-- right plan -->
<g transform="translate(941,15.2)">
<g fill="none" stroke="#7c7c7c" stroke-width="1">
<path d="M64.4,488.4 L65.5,469.5 A383,383 0 0 1 482,159.1 L563.6,169.7 M594.8,174.3 L604.7,175.7"/>
<path d="M52.5,555.4 L34.9,655.7"/>
</g>
<g fill="none" stroke="#1c1c1c" stroke-width="1.1" stroke-linejoin="miter">
<path d="M30.4,518.8 A411.5,411.5 0 0 1 484.4,129.7 L604.7,145.5" stroke-width="2.1"/>
<path d="M32.6,518.9 A409.3,409.3 0 0 1 484.2,131.8 L604.7,147.5" stroke-width="0.7"/>
<path d="M30.9,560 L36.7,522 L43.4,482.1 A401.3,401.3 0 0 1 482.7,138.9 L567,150.5" stroke-width="1.25"/>
<path d="M572,150.6 L604.7,154.8" stroke-width="1.25"/>
<path d="M572.5,141 L597.6,153.9"/>
<path d="M30,518.7 L59.3,523.7 M30,523.7 L56.4,528.6" stroke-width="1.2"/>
<path d="M572.7,141 L569.3,171 L594.6,174.3 L594.6,649" stroke-width="1.4"/>
<path d="M568.2,141 L563.8,176.1 L589.5,179.4 L589.5,643" stroke-width="1.9" stroke="#333"/>
<path d="M592.2,178 L592.2,649" stroke="#d0d0d0" stroke-width="2.6"/>
<path d="M587.5,649 H595.5" stroke-width="2.5"/>
<path d="M595.3,194.2 H604.8" stroke-width="0.9"/>
<path d="M595.3,243.9 H604.8" stroke-width="0.9"/>
<path d="M604.8,217.9 L595.8,243.9" stroke-width="0.8"/>
<path d="M595.3,294.6 H604.8" stroke-width="0.9"/>
<path d="M604.8,268.6 L595.8,294.6" stroke-width="0.8"/>
<path d="M595.3,345.2 H604.8" stroke-width="0.9"/>
<path d="M604.8,319.2 L595.8,345.2" stroke-width="0.8"/>
<path d="M595.3,396 H604.8" stroke-width="0.9"/>
<path d="M604.8,370 L595.8,396" stroke-width="0.8"/>
<path d="M589.6,270 H593.6" stroke-width="2"/>
<path d="M589.6,421.8 H593.6" stroke-width="2"/>
<path d="M589.6,495 H593.6" stroke-width="2"/>
</g>
<g fill="#fff" fill-opacity="0.4" stroke="#111" stroke-width="1.25">
<path d="M47.1,466.2 L39.3,464.9 L31.7,462.5 Q30,461.9 30.1,461.1 L30.3,460.1 Q30.4,459.3 32.2,459.3 L40.2,459.5 L47.9,460.8 Z"/>
<path d="M61.1,408.6 L48.8,404.7 L36.7,399.7 Q34.1,398.6 34.3,397.8 L34.7,396.8 Q34.9,396 37.7,396.6 L50.4,399.5 L62.7,403.4 Z"/>
<path d="M86.2,351.6 L79.4,347.1 L73.3,341.7 Q71.9,340.4 72.4,339.7 L73,338.9 Q73.5,338.2 75.1,339 L82.5,342.6 L89.2,347.2 Z"/>
<path d="M118.6,296.3 L108.5,288.5 L99,279.7 Q96.9,277.8 97.4,277.1 L98,276.3 Q98.5,275.6 101,277.2 L111.8,284.2 L122,292.1 Z"/>
<path d="M160.9,249.6 L155.8,243.4 L151.5,236.4 Q150.6,234.9 151.2,234.3 L152,233.7 Q152.6,233.1 154,234.4 L160,239.9 L165.1,246.2 Z"/>
<path d="M209.5,209.3 L202.2,197.7 L195.8,185.6 Q194.4,182.9 195,182.5 L196,181.9 Q196.6,181.5 198.5,183.9 L206.7,194.8 L214.1,206.3 Z"/>
<path d="M263.5,176 L260.5,168.8 L258.6,161.1 Q258.2,159.4 258.9,159.1 L259.9,158.7 Q260.6,158.4 261.6,159.9 L265.5,166.7 L268.5,174 Z"/>
<path d="M321.9,154.5 L318.8,140.9 L316.9,127.2 Q316.5,124.1 317.3,123.9 L318.3,123.7 Q319.1,123.5 320.1,126.5 L324.1,139.8 L327.1,153.3 Z"/>
<path d="M384.3,140.1 L383.9,132 L384.5,123.9 Q384.7,122.1 385.5,122 L386.5,122 Q387.3,121.9 387.7,123.7 L389.2,131.8 L389.7,139.9 Z"/>
<path d="M447.5,137.1 L447.7,123.3 L448.9,109.5 Q449.3,106.5 450.1,106.5 L451.1,106.5 Q451.9,106.5 452.2,109.6 L453.1,123.4 L452.9,137.1 Z"/>
<path d="M507.3,142.5 L508,134.5 L509.7,126.6 Q510.2,124.9 511,125 L512,125 Q512.8,125.1 513,126.9 L513.4,135 L512.7,142.9 Z"/>
<path d="M567.8,142.2 L569.1,132 L571.5,122 Q572.1,119.8 572.9,119.9 L573.9,120.1 Q574.7,120.2 574.7,122.5 L574.5,132.7 L573.2,142.8 Z"/>
</g>
<g fill="none" stroke="#1c1c1c" stroke-width="1.2">
<rect x="67.4" y="493.8" width="61.2" height="60.7" fill="#7f7f7f" stroke="none"/>
<rect x="67.4" y="492.6" width="61.2" height="2.6" fill="#6a6a6a" stroke="none"/>
<rect x="126.9" y="494" width="2" height="60" fill="#6a6a6a" stroke="none"/>
<rect x="129.6" y="494" width="27.4" height="31.6" fill="url(#hatchR)" stroke="none"/>
<path d="M67.2,507 L67.2,551.3 L58.2,551.3 Z" fill="url(#hatchR)" stroke="none"/>
<path d="M163,655.7 V488.2 H64.6 L52.5,555.4 H155.6" stroke-width="1.5"/>
<path d="M157.6,655.7 V491.4 H68.7 L58,551.7" stroke-width="1.1"/>
<path d="M159.6,496 V650" stroke="#555" stroke-width="0.7"/>
<path d="M129.4,526.4 H157.4 M129.4,531.2 H157.4 M129.4,531.2 V554.5" stroke-width="1"/>
<path d="M54.4,556.4 H155.2 V576.8 H54.4 Z M105.8,556.4 V576.8 M54.4,556.4 L105.8,576.8 M105.8,556.4 L155.2,576.8" stroke-width="0.9"/>
<path d="M127.6,644.7 V598.9 H155.6" stroke-width="1"/>
<rect x="128.2" y="610.3" width="26.8" height="20.6" stroke-width="1.7"/>
<path d="M135.3,603.4 H147 L141.2,608.2 Z" stroke-width="0.9"/>
<circle cx="133.6" cy="613.6" r="1.6" fill="#111" stroke="none"/>
<circle cx="151.5" cy="613.6" r="1.6" fill="#111" stroke="none"/>
<circle cx="133.6" cy="627.5" r="1.6" fill="#111" stroke="none"/>
<circle cx="151.5" cy="627.5" r="1.6" fill="#111" stroke="none"/>
<circle cx="130.3" cy="621" r="1.2" fill="#111" stroke="none"/>
<path d="M63.8,655.7 V644.7 H157.6" stroke-width="1.1"/>
<path d="M64.6,649 V655.7" stroke-width="2"/>
<path d="M153.6,649 H158 V655.7 H153.6 Z" fill="#555" stroke-width="0.6"/>
<path d="M158.7,643.4 H168.3 V648.4 H158.7" stroke-width="1"/>
<g fill="#0a0a0a" stroke="none">
<path d="M88.6,606.4 H113.6 L114.8,608.5 L117,611 V630 L114,632 V635.4 H87.6 V632 L84.6,630 V611 L87,608.5 Z M89.8,614.6 V627.6 H112.4 V614.6 Z"/>
<circle cx="84.7" cy="627.5" r="1.9"/><circle cx="117.2" cy="625.5" r="1.9"/>
<path d="M106.5,605.6 l2.6,-1 l2,2 z"/>
<circle cx="101.3" cy="637.8" r="2.3"/><rect x="100.7" y="625" width="1.3" height="12"/>
<circle cx="100.6" cy="621.2" r="3.9"/>
<rect x="88.6" y="628.4" width="25" height="2" fill="#8a8a8a"/>
</g>
<circle cx="100.6" cy="621.2" r="2.1" fill="#777" stroke="none"/>
<path d="M90.5,626.5 L98,623 M111.8,626.5 L103.4,623" stroke="#666" stroke-width="1"/>
</g>
<g fill="none" stroke="#1c1c1c" stroke-width="1">
<path d="M171.4,644 V600.6 M168.3,644.6 V598.4 H177.9" stroke-width="0.9"/>
<path d="M177.9,598.4 A45,45 0 0 1 214.6,642" stroke-dasharray="5.5 2.5" stroke-width="1.15"/>
<path d="M581,644 V598 H584.7 V644 M571.5,598 H581" stroke-width="0.9"/>
<path d="M571.5,598 A43,43 0 0 0 538.3,642" stroke-dasharray="5.5 2.5" stroke-width="1.15"/>
<rect x="213.7" y="643.4" width="324.6" height="4.8" fill="#bdbdbd" stroke="none"/>
<path d="M213.7,643.4 H538.3" stroke="#555" stroke-width="0.9"/><path d="M213.7,648.2 H538.3" stroke="#333" stroke-width="1.2"/>
<path d="M213.7,641 V648.6 M538.3,641 V648.6 M488.4,643 V648.6" stroke-width="1.6"/>
<rect x="228.3" y="632.7" width="34.5" height="10.7" fill="#fff" stroke-width="0.9"/>
<rect x="488.4" y="632.7" width="34.5" height="10.7" fill="#fff" stroke-width="0.9"/>
<path d="M265,635.4 H488 M265,641.6 H488" stroke="#555" stroke-width="0.7"/>
<path d="M268,636.9 H486" stroke="#888" stroke-width="0.8" stroke-dasharray="9 3"/>
<path d="M268,638.8 H486" stroke="#888" stroke-width="0.8" stroke-dasharray="13 4"/>
<path d="M282,641.6 V639.6 H358 M394,641.6 V639.6 H470 M376,635.4 V638.6" stroke="#333" stroke-width="0.8"/>
</g>
<g fill="none" stroke="#8d9296" stroke-width="0.9">
<rect x="329.7" y="262.7" width="92.4" height="303.3"/>
<rect x="242.1" y="281.6" width="25.6" height="253.5"/><path d="M242.1,408.5 H267.7"/>
<rect x="484.6" y="281.6" width="25.4" height="253.5"/><path d="M484.6,408.5 H510"/>
</g>
<g fill="#484c51" stroke="none">
<g transform="translate(388.5,236) rotate(90) scale(0.939,0.964)"><path d="M3,0.3 H24 Q26.4,0.3 26.4,2.6 V25.2 Q26.4,27.5 24,27.5 H3 Q0.8,27.5 0.9,25 L0.7,19 Q-0.4,13.9 0.7,8.8 L0.9,2.8 Q0.8,0.3 3,0.3 Z M7.3,4.9 H19 Q24.4,4.9 24.4,10.2 V18.4 Q24.4,23.8 19,23.8 H7.3 Q5.9,23.8 5.9,22.4 V6.3 Q5.9,4.9 7.3,4.9 Z" fill-rule="evenodd"/><path d="M3.4,9.3 V18.6" stroke="#8e9195" stroke-width="0.8" fill="none"/></g>
<g transform="translate(301.6,267) scale(1.000,0.996)"><path d="M3,0.3 H24 Q26.4,0.3 26.4,2.6 V25.2 Q26.4,27.5 24,27.5 H3 Q0.8,27.5 0.9,25 L0.7,19 Q-0.4,13.9 0.7,8.8 L0.9,2.8 Q0.8,0.3 3,0.3 Z M7.3,4.9 H19 Q24.4,4.9 24.4,10.2 V18.4 Q24.4,23.8 19,23.8 H7.3 Q5.9,23.8 5.9,22.4 V6.3 Q5.9,4.9 7.3,4.9 Z" fill-rule="evenodd"/><path d="M3.4,9.3 V18.6" stroke="#8e9195" stroke-width="0.8" fill="none"/></g>
<g transform="translate(450.2,267) scale(-1.000,0.996)"><path d="M3,0.3 H24 Q26.4,0.3 26.4,2.6 V25.2 Q26.4,27.5 24,27.5 H3 Q0.8,27.5 0.9,25 L0.7,19 Q-0.4,13.9 0.7,8.8 L0.9,2.8 Q0.8,0.3 3,0.3 Z M7.3,4.9 H19 Q24.4,4.9 24.4,10.2 V18.4 Q24.4,23.8 19,23.8 H7.3 Q5.9,23.8 5.9,22.4 V6.3 Q5.9,4.9 7.3,4.9 Z" fill-rule="evenodd"/><path d="M3.4,9.3 V18.6" stroke="#8e9195" stroke-width="0.8" fill="none"/></g>
<g transform="translate(212.8,285) scale(1.000,0.978)"><path d="M3,0.3 H24 Q26.4,0.3 26.4,2.6 V25.2 Q26.4,27.5 24,27.5 H3 Q0.8,27.5 0.9,25 L0.7,19 Q-0.4,13.9 0.7,8.8 L0.9,2.8 Q0.8,0.3 3,0.3 Z M7.3,4.9 H19 Q24.4,4.9 24.4,10.2 V18.4 Q24.4,23.8 19,23.8 H7.3 Q5.9,23.8 5.9,22.4 V6.3 Q5.9,4.9 7.3,4.9 Z" fill-rule="evenodd"/><path d="M3.4,9.3 V18.6" stroke="#8e9195" stroke-width="0.8" fill="none"/></g>
<g transform="translate(538,285) scale(-1.000,0.978)"><path d="M3,0.3 H24 Q26.4,0.3 26.4,2.6 V25.2 Q26.4,27.5 24,27.5 H3 Q0.8,27.5 0.9,25 L0.7,19 Q-0.4,13.9 0.7,8.8 L0.9,2.8 Q0.8,0.3 3,0.3 Z M7.3,4.9 H19 Q24.4,4.9 24.4,10.2 V18.4 Q24.4,23.8 19,23.8 H7.3 Q5.9,23.8 5.9,22.4 V6.3 Q5.9,4.9 7.3,4.9 Z" fill-rule="evenodd"/><path d="M3.4,9.3 V18.6" stroke="#8e9195" stroke-width="0.8" fill="none"/></g>
<g transform="translate(301.6,305.3) scale(1.000,0.996)"><path d="M3,0.3 H24 Q26.4,0.3 26.4,2.6 V25.2 Q26.4,27.5 24,27.5 H3 Q0.8,27.5 0.9,25 L0.7,19 Q-0.4,13.9 0.7,8.8 L0.9,2.8 Q0.8,0.3 3,0.3 Z M7.3,4.9 H19 Q24.4,4.9 24.4,10.2 V18.4 Q24.4,23.8 19,23.8 H7.3 Q5.9,23.8 5.9,22.4 V6.3 Q5.9,4.9 7.3,4.9 Z" fill-rule="evenodd"/><path d="M3.4,9.3 V18.6" stroke="#8e9195" stroke-width="0.8" fill="none"/></g>
<g transform="translate(450.2,305.3) scale(-1.000,0.996)"><path d="M3,0.3 H24 Q26.4,0.3 26.4,2.6 V25.2 Q26.4,27.5 24,27.5 H3 Q0.8,27.5 0.9,25 L0.7,19 Q-0.4,13.9 0.7,8.8 L0.9,2.8 Q0.8,0.3 3,0.3 Z M7.3,4.9 H19 Q24.4,4.9 24.4,10.2 V18.4 Q24.4,23.8 19,23.8 H7.3 Q5.9,23.8 5.9,22.4 V6.3 Q5.9,4.9 7.3,4.9 Z" fill-rule="evenodd"/><path d="M3.4,9.3 V18.6" stroke="#8e9195" stroke-width="0.8" fill="none"/></g>
<g transform="translate(212.8,316.6) scale(1.000,0.978)"><path d="M3,0.3 H24 Q26.4,0.3 26.4,2.6 V25.2 Q26.4,27.5 24,27.5 H3 Q0.8,27.5 0.9,25 L0.7,19 Q-0.4,13.9 0.7,8.8 L0.9,2.8 Q0.8,0.3 3,0.3 Z M7.3,4.9 H19 Q24.4,4.9 24.4,10.2 V18.4 Q24.4,23.8 19,23.8 H7.3 Q5.9,23.8 5.9,22.4 V6.3 Q5.9,4.9 7.3,4.9 Z" fill-rule="evenodd"/><path d="M3.4,9.3 V18.6" stroke="#8e9195" stroke-width="0.8" fill="none"/></g>
<g transform="translate(538,316.6) scale(-1.000,0.978)"><path d="M3,0.3 H24 Q26.4,0.3 26.4,2.6 V25.2 Q26.4,27.5 24,27.5 H3 Q0.8,27.5 0.9,25 L0.7,19 Q-0.4,13.9 0.7,8.8 L0.9,2.8 Q0.8,0.3 3,0.3 Z M7.3,4.9 H19 Q24.4,4.9 24.4,10.2 V18.4 Q24.4,23.8 19,23.8 H7.3 Q5.9,23.8 5.9,22.4 V6.3 Q5.9,4.9 7.3,4.9 Z" fill-rule="evenodd"/><path d="M3.4,9.3 V18.6" stroke="#8e9195" stroke-width="0.8" fill="none"/></g>
<g transform="translate(301.6,343.6) scale(1.000,0.996)"><path d="M3,0.3 H24 Q26.4,0.3 26.4,2.6 V25.2 Q26.4,27.5 24,27.5 H3 Q0.8,27.5 0.9,25 L0.7,19 Q-0.4,13.9 0.7,8.8 L0.9,2.8 Q0.8,0.3 3,0.3 Z M7.3,4.9 H19 Q24.4,4.9 24.4,10.2 V18.4 Q24.4,23.8 19,23.8 H7.3 Q5.9,23.8 5.9,22.4 V6.3 Q5.9,4.9 7.3,4.9 Z" fill-rule="evenodd"/><path d="M3.4,9.3 V18.6" stroke="#8e9195" stroke-width="0.8" fill="none"/></g>
<g transform="translate(450.2,343.6) scale(-1.000,0.996)"><path d="M3,0.3 H24 Q26.4,0.3 26.4,2.6 V25.2 Q26.4,27.5 24,27.5 H3 Q0.8,27.5 0.9,25 L0.7,19 Q-0.4,13.9 0.7,8.8 L0.9,2.8 Q0.8,0.3 3,0.3 Z M7.3,4.9 H19 Q24.4,4.9 24.4,10.2 V18.4 Q24.4,23.8 19,23.8 H7.3 Q5.9,23.8 5.9,22.4 V6.3 Q5.9,4.9 7.3,4.9 Z" fill-rule="evenodd"/><path d="M3.4,9.3 V18.6" stroke="#8e9195" stroke-width="0.8" fill="none"/></g>
<g transform="translate(212.8,348.2) scale(1.000,0.978)"><path d="M3,0.3 H24 Q26.4,0.3 26.4,2.6 V25.2 Q26.4,27.5 24,27.5 H3 Q0.8,27.5 0.9,25 L0.7,19 Q-0.4,13.9 0.7,8.8 L0.9,2.8 Q0.8,0.3 3,0.3 Z M7.3,4.9 H19 Q24.4,4.9 24.4,10.2 V18.4 Q24.4,23.8 19,23.8 H7.3 Q5.9,23.8 5.9,22.4 V6.3 Q5.9,4.9 7.3,4.9 Z" fill-rule="evenodd"/><path d="M3.4,9.3 V18.6" stroke="#8e9195" stroke-width="0.8" fill="none"/></g>
<g transform="translate(538,348.2) scale(-1.000,0.978)"><path d="M3,0.3 H24 Q26.4,0.3 26.4,2.6 V25.2 Q26.4,27.5 24,27.5 H3 Q0.8,27.5 0.9,25 L0.7,19 Q-0.4,13.9 0.7,8.8 L0.9,2.8 Q0.8,0.3 3,0.3 Z M7.3,4.9 H19 Q24.4,4.9 24.4,10.2 V18.4 Q24.4,23.8 19,23.8 H7.3 Q5.9,23.8 5.9,22.4 V6.3 Q5.9,4.9 7.3,4.9 Z" fill-rule="evenodd"/><path d="M3.4,9.3 V18.6" stroke="#8e9195" stroke-width="0.8" fill="none"/></g>
<g transform="translate(301.6,381.9) scale(1.000,0.996)"><path d="M3,0.3 H24 Q26.4,0.3 26.4,2.6 V25.2 Q26.4,27.5 24,27.5 H3 Q0.8,27.5 0.9,25 L0.7,19 Q-0.4,13.9 0.7,8.8 L0.9,2.8 Q0.8,0.3 3,0.3 Z M7.3,4.9 H19 Q24.4,4.9 24.4,10.2 V18.4 Q24.4,23.8 19,23.8 H7.3 Q5.9,23.8 5.9,22.4 V6.3 Q5.9,4.9 7.3,4.9 Z" fill-rule="evenodd"/><path d="M3.4,9.3 V18.6" stroke="#8e9195" stroke-width="0.8" fill="none"/></g>
<g transform="translate(450.2,381.9) scale(-1.000,0.996)"><path d="M3,0.3 H24 Q26.4,0.3 26.4,2.6 V25.2 Q26.4,27.5 24,27.5 H3 Q0.8,27.5 0.9,25 L0.7,19 Q-0.4,13.9 0.7,8.8 L0.9,2.8 Q0.8,0.3 3,0.3 Z M7.3,4.9 H19 Q24.4,4.9 24.4,10.2 V18.4 Q24.4,23.8 19,23.8 H7.3 Q5.9,23.8 5.9,22.4 V6.3 Q5.9,4.9 7.3,4.9 Z" fill-rule="evenodd"/><path d="M3.4,9.3 V18.6" stroke="#8e9195" stroke-width="0.8" fill="none"/></g>
<g transform="translate(212.8,379.8) scale(1.000,0.978)"><path d="M3,0.3 H24 Q26.4,0.3 26.4,2.6 V25.2 Q26.4,27.5 24,27.5 H3 Q0.8,27.5 0.9,25 L0.7,19 Q-0.4,13.9 0.7,8.8 L0.9,2.8 Q0.8,0.3 3,0.3 Z M7.3,4.9 H19 Q24.4,4.9 24.4,10.2 V18.4 Q24.4,23.8 19,23.8 H7.3 Q5.9,23.8 5.9,22.4 V6.3 Q5.9,4.9 7.3,4.9 Z" fill-rule="evenodd"/><path d="M3.4,9.3 V18.6" stroke="#8e9195" stroke-width="0.8" fill="none"/></g>
<g transform="translate(538,379.8) scale(-1.000,0.978)"><path d="M3,0.3 H24 Q26.4,0.3 26.4,2.6 V25.2 Q26.4,27.5 24,27.5 H3 Q0.8,27.5 0.9,25 L0.7,19 Q-0.4,13.9 0.7,8.8 L0.9,2.8 Q0.8,0.3 3,0.3 Z M7.3,4.9 H19 Q24.4,4.9 24.4,10.2 V18.4 Q24.4,23.8 19,23.8 H7.3 Q5.9,23.8 5.9,22.4 V6.3 Q5.9,4.9 7.3,4.9 Z" fill-rule="evenodd"/><path d="M3.4,9.3 V18.6" stroke="#8e9195" stroke-width="0.8" fill="none"/></g>
<g transform="translate(301.6,420.2) scale(1.000,0.996)"><path d="M3,0.3 H24 Q26.4,0.3 26.4,2.6 V25.2 Q26.4,27.5 24,27.5 H3 Q0.8,27.5 0.9,25 L0.7,19 Q-0.4,13.9 0.7,8.8 L0.9,2.8 Q0.8,0.3 3,0.3 Z M7.3,4.9 H19 Q24.4,4.9 24.4,10.2 V18.4 Q24.4,23.8 19,23.8 H7.3 Q5.9,23.8 5.9,22.4 V6.3 Q5.9,4.9 7.3,4.9 Z" fill-rule="evenodd"/><path d="M3.4,9.3 V18.6" stroke="#8e9195" stroke-width="0.8" fill="none"/></g>
<g transform="translate(450.2,420.2) scale(-1.000,0.996)"><path d="M3,0.3 H24 Q26.4,0.3 26.4,2.6 V25.2 Q26.4,27.5 24,27.5 H3 Q0.8,27.5 0.9,25 L0.7,19 Q-0.4,13.9 0.7,8.8 L0.9,2.8 Q0.8,0.3 3,0.3 Z M7.3,4.9 H19 Q24.4,4.9 24.4,10.2 V18.4 Q24.4,23.8 19,23.8 H7.3 Q5.9,23.8 5.9,22.4 V6.3 Q5.9,4.9 7.3,4.9 Z" fill-rule="evenodd"/><path d="M3.4,9.3 V18.6" stroke="#8e9195" stroke-width="0.8" fill="none"/></g>
<g transform="translate(212.8,411.4) scale(1.000,0.978)"><path d="M3,0.3 H24 Q26.4,0.3 26.4,2.6 V25.2 Q26.4,27.5 24,27.5 H3 Q0.8,27.5 0.9,25 L0.7,19 Q-0.4,13.9 0.7,8.8 L0.9,2.8 Q0.8,0.3 3,0.3 Z M7.3,4.9 H19 Q24.4,4.9 24.4,10.2 V18.4 Q24.4,23.8 19,23.8 H7.3 Q5.9,23.8 5.9,22.4 V6.3 Q5.9,4.9 7.3,4.9 Z" fill-rule="evenodd"/><path d="M3.4,9.3 V18.6" stroke="#8e9195" stroke-width="0.8" fill="none"/></g>
<g transform="translate(538,411.4) scale(-1.000,0.978)"><path d="M3,0.3 H24 Q26.4,0.3 26.4,2.6 V25.2 Q26.4,27.5 24,27.5 H3 Q0.8,27.5 0.9,25 L0.7,19 Q-0.4,13.9 0.7,8.8 L0.9,2.8 Q0.8,0.3 3,0.3 Z M7.3,4.9 H19 Q24.4,4.9 24.4,10.2 V18.4 Q24.4,23.8 19,23.8 H7.3 Q5.9,23.8 5.9,22.4 V6.3 Q5.9,4.9 7.3,4.9 Z" fill-rule="evenodd"/><path d="M3.4,9.3 V18.6" stroke="#8e9195" stroke-width="0.8" fill="none"/></g>
<g transform="translate(301.6,458.5) scale(1.000,0.996)"><path d="M3,0.3 H24 Q26.4,0.3 26.4,2.6 V25.2 Q26.4,27.5 24,27.5 H3 Q0.8,27.5 0.9,25 L0.7,19 Q-0.4,13.9 0.7,8.8 L0.9,2.8 Q0.8,0.3 3,0.3 Z M7.3,4.9 H19 Q24.4,4.9 24.4,10.2 V18.4 Q24.4,23.8 19,23.8 H7.3 Q5.9,23.8 5.9,22.4 V6.3 Q5.9,4.9 7.3,4.9 Z" fill-rule="evenodd"/><path d="M3.4,9.3 V18.6" stroke="#8e9195" stroke-width="0.8" fill="none"/></g>
<g transform="translate(450.2,458.5) scale(-1.000,0.996)"><path d="M3,0.3 H24 Q26.4,0.3 26.4,2.6 V25.2 Q26.4,27.5 24,27.5 H3 Q0.8,27.5 0.9,25 L0.7,19 Q-0.4,13.9 0.7,8.8 L0.9,2.8 Q0.8,0.3 3,0.3 Z M7.3,4.9 H19 Q24.4,4.9 24.4,10.2 V18.4 Q24.4,23.8 19,23.8 H7.3 Q5.9,23.8 5.9,22.4 V6.3 Q5.9,4.9 7.3,4.9 Z" fill-rule="evenodd"/><path d="M3.4,9.3 V18.6" stroke="#8e9195" stroke-width="0.8" fill="none"/></g>
<g transform="translate(212.8,443) scale(1.000,0.978)"><path d="M3,0.3 H24 Q26.4,0.3 26.4,2.6 V25.2 Q26.4,27.5 24,27.5 H3 Q0.8,27.5 0.9,25 L0.7,19 Q-0.4,13.9 0.7,8.8 L0.9,2.8 Q0.8,0.3 3,0.3 Z M7.3,4.9 H19 Q24.4,4.9 24.4,10.2 V18.4 Q24.4,23.8 19,23.8 H7.3 Q5.9,23.8 5.9,22.4 V6.3 Q5.9,4.9 7.3,4.9 Z" fill-rule="evenodd"/><path d="M3.4,9.3 V18.6" stroke="#8e9195" stroke-width="0.8" fill="none"/></g>
<g transform="translate(538,443) scale(-1.000,0.978)"><path d="M3,0.3 H24 Q26.4,0.3 26.4,2.6 V25.2 Q26.4,27.5 24,27.5 H3 Q0.8,27.5 0.9,25 L0.7,19 Q-0.4,13.9 0.7,8.8 L0.9,2.8 Q0.8,0.3 3,0.3 Z M7.3,4.9 H19 Q24.4,4.9 24.4,10.2 V18.4 Q24.4,23.8 19,23.8 H7.3 Q5.9,23.8 5.9,22.4 V6.3 Q5.9,4.9 7.3,4.9 Z" fill-rule="evenodd"/><path d="M3.4,9.3 V18.6" stroke="#8e9195" stroke-width="0.8" fill="none"/></g>
<g transform="translate(301.6,496.8) scale(1.000,0.996)"><path d="M3,0.3 H24 Q26.4,0.3 26.4,2.6 V25.2 Q26.4,27.5 24,27.5 H3 Q0.8,27.5 0.9,25 L0.7,19 Q-0.4,13.9 0.7,8.8 L0.9,2.8 Q0.8,0.3 3,0.3 Z M7.3,4.9 H19 Q24.4,4.9 24.4,10.2 V18.4 Q24.4,23.8 19,23.8 H7.3 Q5.9,23.8 5.9,22.4 V6.3 Q5.9,4.9 7.3,4.9 Z" fill-rule="evenodd"/><path d="M3.4,9.3 V18.6" stroke="#8e9195" stroke-width="0.8" fill="none"/></g>
<g transform="translate(450.2,496.8) scale(-1.000,0.996)"><path d="M3,0.3 H24 Q26.4,0.3 26.4,2.6 V25.2 Q26.4,27.5 24,27.5 H3 Q0.8,27.5 0.9,25 L0.7,19 Q-0.4,13.9 0.7,8.8 L0.9,2.8 Q0.8,0.3 3,0.3 Z M7.3,4.9 H19 Q24.4,4.9 24.4,10.2 V18.4 Q24.4,23.8 19,23.8 H7.3 Q5.9,23.8 5.9,22.4 V6.3 Q5.9,4.9 7.3,4.9 Z" fill-rule="evenodd"/><path d="M3.4,9.3 V18.6" stroke="#8e9195" stroke-width="0.8" fill="none"/></g>
<g transform="translate(212.8,474.6) scale(1.000,0.978)"><path d="M3,0.3 H24 Q26.4,0.3 26.4,2.6 V25.2 Q26.4,27.5 24,27.5 H3 Q0.8,27.5 0.9,25 L0.7,19 Q-0.4,13.9 0.7,8.8 L0.9,2.8 Q0.8,0.3 3,0.3 Z M7.3,4.9 H19 Q24.4,4.9 24.4,10.2 V18.4 Q24.4,23.8 19,23.8 H7.3 Q5.9,23.8 5.9,22.4 V6.3 Q5.9,4.9 7.3,4.9 Z" fill-rule="evenodd"/><path d="M3.4,9.3 V18.6" stroke="#8e9195" stroke-width="0.8" fill="none"/></g>
<g transform="translate(538,474.6) scale(-1.000,0.978)"><path d="M3,0.3 H24 Q26.4,0.3 26.4,2.6 V25.2 Q26.4,27.5 24,27.5 H3 Q0.8,27.5 0.9,25 L0.7,19 Q-0.4,13.9 0.7,8.8 L0.9,2.8 Q0.8,0.3 3,0.3 Z M7.3,4.9 H19 Q24.4,4.9 24.4,10.2 V18.4 Q24.4,23.8 19,23.8 H7.3 Q5.9,23.8 5.9,22.4 V6.3 Q5.9,4.9 7.3,4.9 Z" fill-rule="evenodd"/><path d="M3.4,9.3 V18.6" stroke="#8e9195" stroke-width="0.8" fill="none"/></g>
<g transform="translate(301.6,535.1) scale(1.000,0.996)"><path d="M3,0.3 H24 Q26.4,0.3 26.4,2.6 V25.2 Q26.4,27.5 24,27.5 H3 Q0.8,27.5 0.9,25 L0.7,19 Q-0.4,13.9 0.7,8.8 L0.9,2.8 Q0.8,0.3 3,0.3 Z M7.3,4.9 H19 Q24.4,4.9 24.4,10.2 V18.4 Q24.4,23.8 19,23.8 H7.3 Q5.9,23.8 5.9,22.4 V6.3 Q5.9,4.9 7.3,4.9 Z" fill-rule="evenodd"/><path d="M3.4,9.3 V18.6" stroke="#8e9195" stroke-width="0.8" fill="none"/></g>
<g transform="translate(450.2,535.1) scale(-1.000,0.996)"><path d="M3,0.3 H24 Q26.4,0.3 26.4,2.6 V25.2 Q26.4,27.5 24,27.5 H3 Q0.8,27.5 0.9,25 L0.7,19 Q-0.4,13.9 0.7,8.8 L0.9,2.8 Q0.8,0.3 3,0.3 Z M7.3,4.9 H19 Q24.4,4.9 24.4,10.2 V18.4 Q24.4,23.8 19,23.8 H7.3 Q5.9,23.8 5.9,22.4 V6.3 Q5.9,4.9 7.3,4.9 Z" fill-rule="evenodd"/><path d="M3.4,9.3 V18.6" stroke="#8e9195" stroke-width="0.8" fill="none"/></g>
<g transform="translate(212.8,506.2) scale(1.000,0.978)"><path d="M3,0.3 H24 Q26.4,0.3 26.4,2.6 V25.2 Q26.4,27.5 24,27.5 H3 Q0.8,27.5 0.9,25 L0.7,19 Q-0.4,13.9 0.7,8.8 L0.9,2.8 Q0.8,0.3 3,0.3 Z M7.3,4.9 H19 Q24.4,4.9 24.4,10.2 V18.4 Q24.4,23.8 19,23.8 H7.3 Q5.9,23.8 5.9,22.4 V6.3 Q5.9,4.9 7.3,4.9 Z" fill-rule="evenodd"/><path d="M3.4,9.3 V18.6" stroke="#8e9195" stroke-width="0.8" fill="none"/></g>
<g transform="translate(538,506.2) scale(-1.000,0.978)"><path d="M3,0.3 H24 Q26.4,0.3 26.4,2.6 V25.2 Q26.4,27.5 24,27.5 H3 Q0.8,27.5 0.9,25 L0.7,19 Q-0.4,13.9 0.7,8.8 L0.9,2.8 Q0.8,0.3 3,0.3 Z M7.3,4.9 H19 Q24.4,4.9 24.4,10.2 V18.4 Q24.4,23.8 19,23.8 H7.3 Q5.9,23.8 5.9,22.4 V6.3 Q5.9,4.9 7.3,4.9 Z" fill-rule="evenodd"/><path d="M3.4,9.3 V18.6" stroke="#8e9195" stroke-width="0.8" fill="none"/></g>
</g>
<text x="378.5" y="431" text-anchor="middle" font-family="'Liberation Serif','Noto Serif CJK SC',serif" font-size="14.6" font-weight="600" fill="#8f9296">会议室</text>
<text x="377" y="455.5" text-anchor="middle" font-family="'Liberation Serif','Noto Serif CJK SC',serif" font-size="14.5" font-weight="500" fill="#8f9296">（86㎡）</text>
<path d="M458.4,161.3 L517.8,173.9 L504.8,233.3 L445.4,220.3 Z" fill="url(#sqR)" stroke="#6a6a6a" stroke-width="0.8"/>
<path d="M458.4,161.3 L517.8,173.9 L504.8,233.3" fill="none" stroke="#3a3a3a" stroke-width="1.5"/>
</g>
<circle cx="1219.7" cy="311" r="96" fill="url(#cov)"/>
<g transform="translate(1216.7,318) rotate(35)"><path d="M-23.5,0 V-24 A23.5,15 0 0 1 23.5,-24 V0 Z" fill="url(#can)"/><path d="M-23.5,-24 A23.5,15 0 0 1 23.5,-24" fill="none" stroke="#c9c9c9" stroke-width="0.8" opacity="0.7"/><rect x="22" y="-12" width="5" height="9" fill="#8f8f8f"/><rect x="23" y="-9" width="4.5" height="3.5" fill="#e0e0e0"/><ellipse cx="0" cy="0" rx="31" ry="21" fill="url(#face)" stroke="#e2e2e2" stroke-width="1"/><ellipse cx="0" cy="0" rx="31.2" ry="21.2" fill="none" stroke="#fafafa" stroke-width="0.9" stroke-dasharray="2.2 1.8"/><ellipse cx="0" cy="0" rx="3.4" ry="2.3" fill="none" stroke="#bdbdbd" stroke-width="0.6"/><ellipse cx="0" cy="0" rx="6.9" ry="4.7" fill="none" stroke="#bdbdbd" stroke-width="0.6"/><ellipse cx="0" cy="0" rx="10.3" ry="7" fill="none" stroke="#bdbdbd" stroke-width="0.6"/><ellipse cx="0" cy="0" rx="13.8" ry="9.3" fill="none" stroke="#bdbdbd" stroke-width="0.6"/><ellipse cx="0" cy="0" rx="17.2" ry="11.7" fill="none" stroke="#bdbdbd" stroke-width="0.6"/><ellipse cx="0" cy="0" rx="20.7" ry="14" fill="none" stroke="#bdbdbd" stroke-width="0.6"/><ellipse cx="0" cy="0" rx="24.1" ry="16.3" fill="none" stroke="#bdbdbd" stroke-width="0.6"/><ellipse cx="0" cy="0" rx="27.6" ry="18.7" fill="none" stroke="#bdbdbd" stroke-width="0.6"/></g>
<circle cx="1421" cy="315" r="96" fill="url(#cov)"/>
<g transform="translate(1418,322) rotate(35)"><path d="M-23.5,0 V-24 A23.5,15 0 0 1 23.5,-24 V0 Z" fill="url(#can)"/><path d="M-23.5,-24 A23.5,15 0 0 1 23.5,-24" fill="none" stroke="#c9c9c9" stroke-width="0.8" opacity="0.7"/><rect x="22" y="-12" width="5" height="9" fill="#8f8f8f"/><rect x="23" y="-9" width="4.5" height="3.5" fill="#e0e0e0"/><ellipse cx="0" cy="0" rx="31" ry="21" fill="url(#face)" stroke="#e2e2e2" stroke-width="1"/><ellipse cx="0" cy="0" rx="31.2" ry="21.2" fill="none" stroke="#fafafa" stroke-width="0.9" stroke-dasharray="2.2 1.8"/><ellipse cx="0" cy="0" rx="3.4" ry="2.3" fill="none" stroke="#bdbdbd" stroke-width="0.6"/><ellipse cx="0" cy="0" rx="6.9" ry="4.7" fill="none" stroke="#bdbdbd" stroke-width="0.6"/><ellipse cx="0" cy="0" rx="10.3" ry="7" fill="none" stroke="#bdbdbd" stroke-width="0.6"/><ellipse cx="0" cy="0" rx="13.8" ry="9.3" fill="none" stroke="#bdbdbd" stroke-width="0.6"/><ellipse cx="0" cy="0" rx="17.2" ry="11.7" fill="none" stroke="#bdbdbd" stroke-width="0.6"/><ellipse cx="0" cy="0" rx="20.7" ry="14" fill="none" stroke="#bdbdbd" stroke-width="0.6"/><ellipse cx="0" cy="0" rx="24.1" ry="16.3" fill="none" stroke="#bdbdbd" stroke-width="0.6"/><ellipse cx="0" cy="0" rx="27.6" ry="18.7" fill="none" stroke="#bdbdbd" stroke-width="0.6"/></g>
<circle cx="1314.4" cy="246.6" r="96" fill="url(#cov)"/>
<g transform="translate(1311.4,253.6) rotate(35)"><path d="M-23.5,0 V-24 A23.5,15 0 0 1 23.5,-24 V0 Z" fill="url(#can)"/><path d="M-23.5,-24 A23.5,15 0 0 1 23.5,-24" fill="none" stroke="#c9c9c9" stroke-width="0.8" opacity="0.7"/><rect x="22" y="-12" width="5" height="9" fill="#8f8f8f"/><rect x="23" y="-9" width="4.5" height="3.5" fill="#e0e0e0"/><ellipse cx="0" cy="0" rx="31" ry="21" fill="url(#face)" stroke="#e2e2e2" stroke-width="1"/><ellipse cx="0" cy="0" rx="31.2" ry="21.2" fill="none" stroke="#fafafa" stroke-width="0.9" stroke-dasharray="2.2 1.8"/><ellipse cx="0" cy="0" rx="3.4" ry="2.3" fill="none" stroke="#bdbdbd" stroke-width="0.6"/><ellipse cx="0" cy="0" rx="6.9" ry="4.7" fill="none" stroke="#bdbdbd" stroke-width="0.6"/><ellipse cx="0" cy="0" rx="10.3" ry="7" fill="none" stroke="#bdbdbd" stroke-width="0.6"/><ellipse cx="0" cy="0" rx="13.8" ry="9.3" fill="none" stroke="#bdbdbd" stroke-width="0.6"/><ellipse cx="0" cy="0" rx="17.2" ry="11.7" fill="none" stroke="#bdbdbd" stroke-width="0.6"/><ellipse cx="0" cy="0" rx="20.7" ry="14" fill="none" stroke="#bdbdbd" stroke-width="0.6"/><ellipse cx="0" cy="0" rx="24.1" ry="16.3" fill="none" stroke="#bdbdbd" stroke-width="0.6"/><ellipse cx="0" cy="0" rx="27.6" ry="18.7" fill="none" stroke="#bdbdbd" stroke-width="0.6"/></g>
<circle cx="1219.9" cy="452" r="96" fill="url(#cov)"/>
<g transform="translate(1216.9,459) rotate(35)"><path d="M-23.5,0 V-24 A23.5,15 0 0 1 23.5,-24 V0 Z" fill="url(#can)"/><path d="M-23.5,-24 A23.5,15 0 0 1 23.5,-24" fill="none" stroke="#c9c9c9" stroke-width="0.8" opacity="0.7"/><rect x="22" y="-12" width="5" height="9" fill="#8f8f8f"/><rect x="23" y="-9" width="4.5" height="3.5" fill="#e0e0e0"/><ellipse cx="0" cy="0" rx="31" ry="21" fill="url(#face)" stroke="#e2e2e2" stroke-width="1"/><ellipse cx="0" cy="0" rx="31.2" ry="21.2" fill="none" stroke="#fafafa" stroke-width="0.9" stroke-dasharray="2.2 1.8"/><ellipse cx="0" cy="0" rx="3.4" ry="2.3" fill="none" stroke="#bdbdbd" stroke-width="0.6"/><ellipse cx="0" cy="0" rx="6.9" ry="4.7" fill="none" stroke="#bdbdbd" stroke-width="0.6"/><ellipse cx="0" cy="0" rx="10.3" ry="7" fill="none" stroke="#bdbdbd" stroke-width="0.6"/><ellipse cx="0" cy="0" rx="13.8" ry="9.3" fill="none" stroke="#bdbdbd" stroke-width="0.6"/><ellipse cx="0" cy="0" rx="17.2" ry="11.7" fill="none" stroke="#bdbdbd" stroke-width="0.6"/><ellipse cx="0" cy="0" rx="20.7" ry="14" fill="none" stroke="#bdbdbd" stroke-width="0.6"/><ellipse cx="0" cy="0" rx="24.1" ry="16.3" fill="none" stroke="#bdbdbd" stroke-width="0.6"/><ellipse cx="0" cy="0" rx="27.6" ry="18.7" fill="none" stroke="#bdbdbd" stroke-width="0.6"/></g>
<circle cx="1421.6" cy="455" r="96" fill="url(#cov)"/>
<g transform="translate(1418.6,462) rotate(35)"><path d="M-23.5,0 V-24 A23.5,15 0 0 1 23.5,-24 V0 Z" fill="url(#can)"/><path d="M-23.5,-24 A23.5,15 0 0 1 23.5,-24" fill="none" stroke="#c9c9c9" stroke-width="0.8" opacity="0.7"/><rect x="22" y="-12" width="5" height="9" fill="#8f8f8f"/><rect x="23" y="-9" width="4.5" height="3.5" fill="#e0e0e0"/><ellipse cx="0" cy="0" rx="31" ry="21" fill="url(#face)" stroke="#e2e2e2" stroke-width="1"/><ellipse cx="0" cy="0" rx="31.2" ry="21.2" fill="none" stroke="#fafafa" stroke-width="0.9" stroke-dasharray="2.2 1.8"/><ellipse cx="0" cy="0" rx="3.4" ry="2.3" fill="none" stroke="#bdbdbd" stroke-width="0.6"/><ellipse cx="0" cy="0" rx="6.9" ry="4.7" fill="none" stroke="#bdbdbd" stroke-width="0.6"/><ellipse cx="0" cy="0" rx="10.3" ry="7" fill="none" stroke="#bdbdbd" stroke-width="0.6"/><ellipse cx="0" cy="0" rx="13.8" ry="9.3" fill="none" stroke="#bdbdbd" stroke-width="0.6"/><ellipse cx="0" cy="0" rx="17.2" ry="11.7" fill="none" stroke="#bdbdbd" stroke-width="0.6"/><ellipse cx="0" cy="0" rx="20.7" ry="14" fill="none" stroke="#bdbdbd" stroke-width="0.6"/><ellipse cx="0" cy="0" rx="24.1" ry="16.3" fill="none" stroke="#bdbdbd" stroke-width="0.6"/><ellipse cx="0" cy="0" rx="27.6" ry="18.7" fill="none" stroke="#bdbdbd" stroke-width="0.6"/></g>
<circle cx="1219.9" cy="592.4" r="96" fill="url(#cov)"/>
<g transform="translate(1216.9,599.4) rotate(35)"><path d="M-23.5,0 V-24 A23.5,15 0 0 1 23.5,-24 V0 Z" fill="url(#can)"/><path d="M-23.5,-24 A23.5,15 0 0 1 23.5,-24" fill="none" stroke="#c9c9c9" stroke-width="0.8" opacity="0.7"/><rect x="22" y="-12" width="5" height="9" fill="#8f8f8f"/><rect x="23" y="-9" width="4.5" height="3.5" fill="#e0e0e0"/><ellipse cx="0" cy="0" rx="31" ry="21" fill="url(#face)" stroke="#e2e2e2" stroke-width="1"/><ellipse cx="0" cy="0" rx="31.2" ry="21.2" fill="none" stroke="#fafafa" stroke-width="0.9" stroke-dasharray="2.2 1.8"/><ellipse cx="0" cy="0" rx="3.4" ry="2.3" fill="none" stroke="#bdbdbd" stroke-width="0.6"/><ellipse cx="0" cy="0" rx="6.9" ry="4.7" fill="none" stroke="#bdbdbd" stroke-width="0.6"/><ellipse cx="0" cy="0" rx="10.3" ry="7" fill="none" stroke="#bdbdbd" stroke-width="0.6"/><ellipse cx="0" cy="0" rx="13.8" ry="9.3" fill="none" stroke="#bdbdbd" stroke-width="0.6"/><ellipse cx="0" cy="0" rx="17.2" ry="11.7" fill="none" stroke="#bdbdbd" stroke-width="0.6"/><ellipse cx="0" cy="0" rx="20.7" ry="14" fill="none" stroke="#bdbdbd" stroke-width="0.6"/><ellipse cx="0" cy="0" rx="24.1" ry="16.3" fill="none" stroke="#bdbdbd" stroke-width="0.6"/><ellipse cx="0" cy="0" rx="27.6" ry="18.7" fill="none" stroke="#bdbdbd" stroke-width="0.6"/></g>
<circle cx="1421.6" cy="596" r="96" fill="url(#cov)"/>
<g transform="translate(1418.6,603) rotate(35)"><path d="M-23.5,0 V-24 A23.5,15 0 0 1 23.5,-24 V0 Z" fill="url(#can)"/><path d="M-23.5,-24 A23.5,15 0 0 1 23.5,-24" fill="none" stroke="#c9c9c9" stroke-width="0.8" opacity="0.7"/><rect x="22" y="-12" width="5" height="9" fill="#8f8f8f"/><rect x="23" y="-9" width="4.5" height="3.5" fill="#e0e0e0"/><ellipse cx="0" cy="0" rx="31" ry="21" fill="url(#face)" stroke="#e2e2e2" stroke-width="1"/><ellipse cx="0" cy="0" rx="31.2" ry="21.2" fill="none" stroke="#fafafa" stroke-width="0.9" stroke-dasharray="2.2 1.8"/><ellipse cx="0" cy="0" rx="3.4" ry="2.3" fill="none" stroke="#bdbdbd" stroke-width="0.6"/><ellipse cx="0" cy="0" rx="6.9" ry="4.7" fill="none" stroke="#bdbdbd" stroke-width="0.6"/><ellipse cx="0" cy="0" rx="10.3" ry="7" fill="none" stroke="#bdbdbd" stroke-width="0.6"/><ellipse cx="0" cy="0" rx="13.8" ry="9.3" fill="none" stroke="#bdbdbd" stroke-width="0.6"/><ellipse cx="0" cy="0" rx="17.2" ry="11.7" fill="none" stroke="#bdbdbd" stroke-width="0.6"/><ellipse cx="0" cy="0" rx="20.7" ry="14" fill="none" stroke="#bdbdbd" stroke-width="0.6"/><ellipse cx="0" cy="0" rx="24.1" ry="16.3" fill="none" stroke="#bdbdbd" stroke-width="0.6"/><ellipse cx="0" cy="0" rx="27.6" ry="18.7" fill="none" stroke="#bdbdbd" stroke-width="0.6"/></g>
<!-- connector -->
<path d="M256,624.7 C297,624.7 331,652 331,687.3 C331,724 362,746 396,749" fill="none" stroke="#f07d22" stroke-width="2.6" marker-end="url(#oa)"/>
<!-- column speaker and beams -->
<path d="M406.6,699 Q406.6,697.5 410,697 L420,696 Q428,695 436.4,697.5 V986 Q428,989 420,988.2 L406.6,986.5 Z" fill="url(#colf)"/>
<path d="M406.6,699 Q406.6,697.5 410,697 L420,696 V988.2 L406.6,986.5 Z" fill="url(#cold)"/>
<path d="M420,697 Q428,695 436.4,697.5 V986 Q428,989 420,988.2 Z" fill="#fff" filter="url(#grain)" opacity="0.55"/>
<path d="M420,841.8 H436.8" stroke="#8a8a8a" stroke-width="1.1"/>
<path d="M406.6,841.8 H420" stroke="#2e3338" stroke-width="0.9"/>
<polygon points="436.3,951.7 936.3,995.6 927.1,1056.9" fill="#777" opacity="0.45" filter="url(#blur2)"/>
<polygon points="434.8,948.2 934.8,992.1 925.6,1053.4" fill="url(#gy)"/>
<polygon points="436.3,951.4 880.3,929.1 880.3,979" fill="#777" opacity="0.45" filter="url(#blur2)"/>
<polygon points="434.8,948.2 878.8,925.9 878.8,975.8" fill="url(#gt)"/>
<polygon points="436.3,876.3 936.3,920.2 927.1,981.5" fill="#777" opacity="0.45" filter="url(#blur2)"/>
<polygon points="434.8,872.8 934.8,916.7 925.6,978" fill="url(#gy)"/>
<polygon points="436.3,876 880.3,853.7 880.3,903.6" fill="#777" opacity="0.45" filter="url(#blur2)"/>
<polygon points="434.8,872.8 878.8,850.5 878.8,900.4" fill="url(#gt)"/>
<polygon points="435.8,803.7 936.3,847.6 927.1,908.9" fill="#777" opacity="0.45" filter="url(#blur2)"/>
<polygon points="434.3,800.2 934.8,844.1 925.6,905.4" fill="url(#gy)"/>
<polygon points="435.8,803.4 880.3,781.1 880.3,831" fill="#777" opacity="0.45" filter="url(#blur2)"/>
<polygon points="434.3,800.2 878.8,777.9 878.8,827.8" fill="url(#gt)"/>
<polygon points="435.8,728 936.3,771.9 927.1,833.2" fill="#777" opacity="0.45" filter="url(#blur2)"/>
<polygon points="434.3,724.5 934.8,768.4 925.6,829.7" fill="url(#gy)"/>
<polygon points="435.8,727.7 880.3,705.4 880.3,755.3" fill="#777" opacity="0.45" filter="url(#blur2)"/>
<polygon points="434.3,724.5 878.8,702.2 878.8,752.1" fill="url(#gt)"/>
<path d="M863,721.4 A55,55 0 0 1 911.6,774.5" fill="none" stroke="#3c76b8" stroke-width="2.3" marker-start="url(#ba)" marker-end="url(#ba)"/>
<text x="825.5" y="814.6" font-family="'Liberation Sans','Noto Sans CJK SC',sans-serif" font-size="40" font-weight="400" fill="#4a78b0">±70°<tspan font-weight="350">可调</tspan></text>
</svg>
<div class="t" style="left:80px;top:61px;letter-spacing:-0.22px;">主扩声<span class="c" lang="zh-TW">：</span>可调指向音柱音箱</div>
<div class="t" style="left:1018px;top:61px;letter-spacing:0.05px;">语言扩声<span class="c" lang="zh-TW">：</span>天花吸顶音箱</div>
<div class="t" style="left:935.5px;top:864.5px;font-size:44.6px;">可调指向</div>
</body>
</html>
